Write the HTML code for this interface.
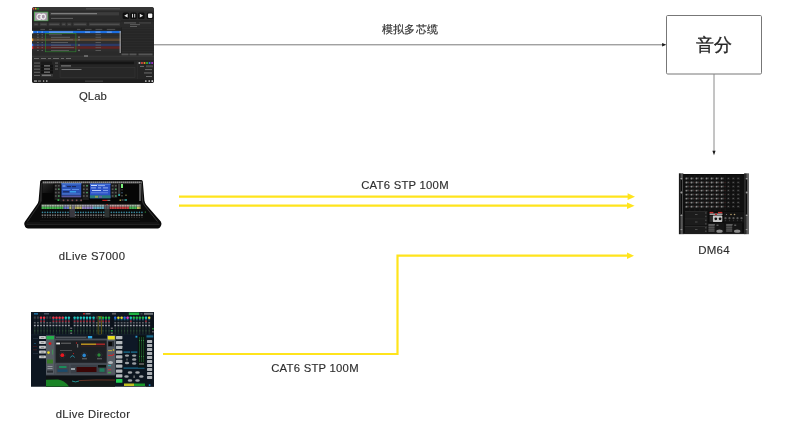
<!DOCTYPE html>
<html><head><meta charset="utf-8">
<style>
html,body{margin:0;padding:0;}
body{width:800px;height:430px;background:#ffffff;position:relative;overflow:hidden;font-family:"Liberation Sans", sans-serif;}
.t{position:absolute;white-space:nowrap;text-align:center;color:#2e2e2e;line-height:1;will-change:transform;}
.ab{position:absolute;}
svg{position:absolute;left:0;top:0;}
</style></head><body>
<div class="t" style="left:-57.400000000000006px;width:300px;top:91.4px;font-size:11.3px;letter-spacing:0.1px;color:#2e2e2e;-webkit-text-stroke:0.15px #2e2e2e;">QLab</div><div class="t" style="left:255px;width:300px;top:179.5px;font-size:11.3px;letter-spacing:0.25px;color:#2e2e2e;-webkit-text-stroke:0.15px #2e2e2e;">CAT6 STP 100M</div><div class="t" style="left:165px;width:300px;top:362.5px;font-size:11.3px;letter-spacing:0.25px;color:#2e2e2e;-webkit-text-stroke:0.15px #2e2e2e;">CAT6 STP 100M</div><div class="t" style="left:-57.7px;width:300px;top:250.5px;font-size:11.3px;letter-spacing:0.35px;color:#2e2e2e;-webkit-text-stroke:0.15px #2e2e2e;">dLive S7000</div><div class="t" style="left:-57.5px;width:300px;top:408.5px;font-size:11.3px;letter-spacing:0.35px;color:#2e2e2e;-webkit-text-stroke:0.15px #2e2e2e;">dLive Director</div><div class="t" style="left:564px;width:300px;top:245.4px;font-size:11.5px;letter-spacing:0.2px;color:#2e2e2e;-webkit-text-stroke:0.15px #2e2e2e;">DM64</div><div class="t" style="left:260px;width:300px;top:24px;font-size:10.8px;letter-spacing:0.2px;color:#333;-webkit-text-stroke:0.2px #333;">模拟多芯缆</div><div class="t" style="left:564px;width:300px;top:36px;font-size:18px;letter-spacing:0px;color:#262626;-webkit-text-stroke:0.3px #262626;">音分</div><svg width="800" height="430" viewBox="0 0 800 430">
<line x1="154" y1="44.8" x2="663" y2="44.8" stroke="#7a7a7a" stroke-width="1"/>
<polygon points="662.1,43.1 666.4,44.8 662.1,46.5" fill="#1a1a1a"/>
<rect x="666.5" y="15.5" width="95" height="58.5" rx="1.2" fill="none" stroke="#777" stroke-width="1"/>
<line x1="714" y1="74" x2="714" y2="151.5" stroke="#8a8a8a" stroke-width="1"/>
<polygon points="712.4,150.8 714,155.2 715.6,150.8" fill="#1a1a1a"/>
<line x1="179" y1="196.7" x2="629" y2="196.7" stroke="#ffe41c" stroke-width="2.2"/>
<polygon points="627.6,193.3 635,196.7 627.6,200.1" fill="#ffe41c"/>
<line x1="179" y1="205.7" x2="628" y2="205.7" stroke="#ffe41c" stroke-width="2.2"/>
<polygon points="627,202.4 634.6,205.7 627,209" fill="#ffe41c"/>
<polyline points="163,354 397.5,354 397.5,255.7 628,255.7" fill="none" stroke="#ffe41c" stroke-width="2.2"/>
<polygon points="627,252.5 634,255.7 627,258.9" fill="#ffe41c"/>
</svg>
<svg width="800" height="430" viewBox="0 0 800 430" style="will-change:transform"><defs><clipPath id="qc"><rect x="32" y="7" width="122" height="76" rx="2.5"/></clipPath></defs><g clip-path="url(#qc)"><rect x="32" y="7" width="122" height="76" fill="#2a2a2a" /><rect x="32" y="7" width="122" height="3.6" fill="#353535" /><circle cx="33.4" cy="8.7" r="0.85" fill="#e0443e"/><circle cx="35.699999999999996" cy="8.7" r="0.85" fill="#dea123"/><circle cx="38.0" cy="8.7" r="0.85" fill="#1aab29"/><rect x="86" y="8.4" width="34" height="0.9" fill="#5a5a5a" /><rect x="34" y="11.7" width="14.3" height="9.6" fill="#34a83a" /><rect x="34.7" y="12.4" width="12.9" height="8.2" fill="#a696a8" /><path d="M41.2,15.2 A2.35,2.6 0 1 0 41.3,18.2 L41.3,16.9 L39.7,16.9" fill="none" stroke="#f0f0f0" stroke-width="1.15"/><ellipse cx="43.3" cy="16.6" rx="2.1" ry="2.5" fill="none" stroke="#f0f0f0" stroke-width="1.15"/><rect x="50" y="12.2" width="69" height="3.2" fill="#3c3c3c" /><rect x="51" y="13.2" width="46" height="1.0" fill="#a0a0a0" opacity="0.8"/><rect x="51" y="17.9" width="22" height="0.8" fill="#6e6e6e" /><rect x="32" y="21.5" width="89" height="0.6" fill="#222" /><rect x="33.8" y="22.6" width="4.6" height="3.2" fill="#3b3b3b" /><rect x="34.599999999999994" y="23.9" width="2.9999999999999996" height="0.7" fill="#5e5e5e" /><rect x="39.8" y="22.6" width="7.4" height="3.2" fill="#3b3b3b" /><rect x="40.599999999999994" y="23.9" width="5.800000000000001" height="0.7" fill="#5e5e5e" /><rect x="48.6" y="22.6" width="11.2" height="3.2" fill="#3b3b3b" /><rect x="49.4" y="23.9" width="9.6" height="0.7" fill="#5e5e5e" /><rect x="61.6" y="22.6" width="4.2" height="3.2" fill="#3b3b3b" /><rect x="62.4" y="23.9" width="2.6" height="0.7" fill="#5e5e5e" /><rect x="67.2" y="22.6" width="4.2" height="3.2" fill="#3b3b3b" /><rect x="68.0" y="23.9" width="2.6" height="0.7" fill="#5e5e5e" /><rect x="73.3" y="22.6" width="13.4" height="3.2" fill="#3b3b3b" /><rect x="74.1" y="23.9" width="11.8" height="0.7" fill="#5e5e5e" /><rect x="89" y="22.6" width="31" height="3.2" fill="#3b3b3b" /><rect x="89.8" y="23.9" width="29.4" height="0.7" fill="#5e5e5e" /><rect x="122.6" y="12.4" width="6.6" height="6.6" rx="1.5" fill="#0e0e0e"/><rect x="130.2" y="12.4" width="6.6" height="6.6" rx="1.5" fill="#0e0e0e"/><rect x="138.0" y="12.4" width="6.6" height="6.6" rx="1.5" fill="#0e0e0e"/><rect x="146.8" y="12.4" width="6.6" height="6.6" rx="1.5" fill="#0e0e0e"/><polygon points="127.6,13.8 127.6,17.6 124.2,15.7" fill="#e8e8e8"/><rect x="132.0" y="13.9" width="1.0" height="3.6" fill="#d0d0d0" /><rect x="134.2" y="13.9" width="1.0" height="3.6" fill="#d0d0d0" /><polygon points="139.8,13.8 139.8,17.6 143.2,15.7" fill="#e0e0e0"/><rect x="148.0" y="13.6" width="4.3" height="4.3" rx="0.8" fill="#f2f2f2"/><rect x="121" y="20.5" width="33" height="1.0" fill="#202020" /><rect x="124" y="22.3" width="12" height="1.2" fill="#5a5a5a" /><rect x="139" y="22.3" width="12" height="1.2" fill="#444" /><rect x="130" y="24.3" width="10" height="0.8" fill="#6a6a6a" /><rect x="130" y="26.2" width="7" height="0.8" fill="#6a6a6a" /><rect x="32" y="27.8" width="89" height="2.8" fill="#222222" /><rect x="40.4" y="28.9" width="4.6" height="0.8" fill="#5e5e5e" /><rect x="48.9" y="28.9" width="3" height="0.8" fill="#5e5e5e" /><rect x="77" y="28.9" width="3.4" height="0.8" fill="#5e5e5e" /><rect x="85" y="28.9" width="6.6" height="0.8" fill="#5e5e5e" /><rect x="95.5" y="28.9" width="6.8" height="0.8" fill="#5e5e5e" /><rect x="106.8" y="28.9" width="8.4" height="0.8" fill="#5e5e5e" /><rect x="32" y="30.9" width="89" height="2.5" fill="#1c6ee0" /><rect x="32" y="33.4" width="89" height="2.5" fill="#2c2c2c" /><rect x="32" y="35.9" width="89" height="2.5" fill="#303030" /><rect x="32" y="38.5" width="89" height="2.6" fill="#5b4834" /><rect x="32" y="41.1" width="89" height="2.6" fill="#2e2e2e" /><rect x="32" y="43.7" width="89" height="2.6" fill="#2b3a66" /><rect x="32" y="46.3" width="89" height="2.6" fill="#5e2424" /><rect x="32" y="48.9" width="89" height="2.6" fill="#2d2d2d" /><rect x="32" y="30.9" width="1.2" height="2.5" fill="#ffffff" /><rect x="32" y="38.5" width="1.2" height="2.6" fill="#f0a030" /><rect x="32" y="43.7" width="1.2" height="2.6" fill="#3a7af0" /><rect x="32" y="46.3" width="1.2" height="2.6" fill="#e03a3a" /><rect x="37.2" y="31.6" width="0.8" height="1.0" fill="#e0e8ff" /><rect x="41.7" y="31.6" width="0.8" height="1.0" fill="#e0e8ff" /><rect x="49" y="31.7" width="24" height="0.8" fill="#e8f0ff" opacity="0.6"/><rect x="85" y="31.7" width="5" height="0.8" fill="#b8d0f8" opacity="0.8"/><rect x="95.5" y="31.7" width="5" height="0.8" fill="#b8d0f8" opacity="0.8"/><rect x="106.8" y="31.7" width="5" height="0.8" fill="#b8d0f8" opacity="0.8"/><rect x="37" y="34.4" width="1.8" height="0.8" fill="#6a6a6a" /><rect x="41.5" y="34.4" width="1.5" height="0.8" fill="#6a6a6a" /><rect x="48.9" y="34.5" width="13" height="0.65" fill="#6e6e6e" /><rect x="95.5" y="34.4" width="5.5" height="0.8" fill="#626262" /><rect x="37" y="36.800000000000004" width="1.8" height="0.8" fill="#6a6a6a" /><rect x="41.5" y="36.800000000000004" width="1.5" height="0.8" fill="#6a6a6a" /><rect x="51" y="36.900000000000006" width="19" height="0.65" fill="#727272" /><rect x="95.5" y="36.800000000000004" width="5.5" height="0.8" fill="#626262" /><rect x="37" y="39.4" width="1.8" height="0.8" fill="#6a6a6a" /><rect x="41.5" y="39.4" width="1.5" height="0.8" fill="#6a6a6a" /><rect x="51" y="39.5" width="22" height="0.65" fill="#727272" /><rect x="95.5" y="39.4" width="5.5" height="0.8" fill="#626262" /><rect x="37" y="42.1" width="1.8" height="0.8" fill="#6a6a6a" /><rect x="41.5" y="42.1" width="1.5" height="0.8" fill="#6a6a6a" /><rect x="51" y="42.2" width="17" height="0.65" fill="#727272" /><rect x="95.5" y="42.1" width="5.5" height="0.8" fill="#626262" /><rect x="37" y="44.7" width="1.8" height="0.8" fill="#6a6a6a" /><rect x="41.5" y="44.7" width="1.5" height="0.8" fill="#6a6a6a" /><rect x="51" y="44.800000000000004" width="20" height="0.65" fill="#727272" /><rect x="95.5" y="44.7" width="5.5" height="0.8" fill="#626262" /><rect x="37" y="47.300000000000004" width="1.8" height="0.8" fill="#6a6a6a" /><rect x="41.5" y="47.300000000000004" width="1.5" height="0.8" fill="#6a6a6a" /><rect x="51" y="47.400000000000006" width="23" height="0.65" fill="#727272" /><rect x="95.5" y="47.300000000000004" width="5.5" height="0.8" fill="#626262" /><rect x="37" y="50.0" width="1.8" height="0.8" fill="#6a6a6a" /><rect x="41.5" y="50.0" width="1.5" height="0.8" fill="#6a6a6a" /><rect x="51" y="50.1" width="18" height="0.65" fill="#727272" /><rect x="95.5" y="50.0" width="5.5" height="0.8" fill="#626262" /><rect x="78" y="36.5" width="2" height="1.4" fill="#6a6a6a" /><rect x="78" y="39.099999999999994" width="2" height="1.4" fill="#6a6a6a" /><rect x="78" y="44.4" width="2" height="1.4" fill="#6a6a6a" /><rect x="78" y="49.699999999999996" width="2" height="1.4" fill="#6a6a6a" /><rect x="45.6" y="33.4" width="30.3" height="18.4" fill="none" stroke="#2f8a2f" stroke-width="0.6"/><rect x="119.6" y="31" width="1.2" height="22" fill="#9a9a9a" /><rect x="121" y="27.5" width="33" height="26" fill="#262626" /><rect x="121" y="28.0" width="33" height="0.6" fill="#303030" /><rect x="121" y="30.6" width="33" height="0.6" fill="#303030" /><rect x="121" y="33.2" width="33" height="0.6" fill="#303030" /><rect x="121" y="35.8" width="33" height="0.6" fill="#303030" /><rect x="121" y="38.4" width="33" height="0.6" fill="#303030" /><rect x="121" y="41.0" width="33" height="0.6" fill="#303030" /><rect x="121" y="43.6" width="33" height="0.6" fill="#303030" /><rect x="121" y="46.2" width="33" height="0.6" fill="#303030" /><rect x="121" y="48.8" width="33" height="0.6" fill="#303030" /><rect x="121" y="51.400000000000006" width="33" height="0.6" fill="#303030" /><rect x="121" y="27.5" width="0.6" height="26" fill="#1a1a1a" /><rect x="121.5" y="53.5" width="7" height="1.8" fill="#555" /><rect x="129.5" y="53.5" width="7" height="1.8" fill="#555" /><rect x="138.5" y="53.5" width="14" height="1.8" fill="#555" /><rect x="32" y="55.8" width="122" height="0.8" fill="#3e3e3e" /><rect x="84" y="55.4" width="4" height="1.2" fill="#8a8a8a" /><rect x="32" y="57" width="122" height="3" fill="#2e2e2e" /><rect x="34" y="58" width="5" height="1.0" fill="#6a6a6a" /><rect x="41" y="58" width="5" height="1.0" fill="#6a6a6a" /><rect x="48" y="58" width="3" height="1.0" fill="#6a6a6a" /><rect x="53" y="58" width="6" height="1.0" fill="#6a6a6a" /><rect x="61" y="58" width="3" height="1.0" fill="#6a6a6a" /><rect x="66" y="58" width="5" height="1.0" fill="#6a6a6a" /><rect x="32" y="60" width="122" height="19.5" fill="#252525" /><rect x="34" y="62.6" width="6" height="0.9" fill="#707070" /><rect x="41" y="61.7" width="11" height="2.6" fill="#1a1a1a" /><rect x="34" y="65.6" width="6" height="0.9" fill="#707070" /><rect x="41" y="64.69999999999999" width="12" height="2.6" fill="#121212" /><rect x="44" y="65.39999999999999" width="6" height="1.0" fill="#9a9a9a" /><rect x="34" y="68.7" width="6" height="0.9" fill="#707070" /><rect x="41" y="67.8" width="12" height="2.6" fill="#121212" /><rect x="44" y="68.5" width="6" height="1.0" fill="#9a9a9a" /><rect x="34" y="71.8" width="6" height="0.9" fill="#707070" /><rect x="41" y="70.89999999999999" width="12" height="2.6" fill="#121212" /><rect x="44" y="71.6" width="6" height="1.0" fill="#9a9a9a" /><rect x="34" y="74.9" width="6" height="0.9" fill="#707070" /><rect x="41" y="74.0" width="12" height="2.6" fill="#3a3a3a" /><rect x="42" y="74.7" width="9" height="1.1" fill="#888" /><rect x="60" y="61.6" width="74" height="2.6" fill="#141414" /><rect x="55" y="62.6" width="3" height="0.9" fill="#707070" /><rect x="55" y="65.6" width="3" height="0.9" fill="#707070" /><rect x="55" y="68.6" width="3" height="0.9" fill="#707070" /><rect x="61" y="65.4" width="10" height="1.0" fill="#8a8a8a" /><rect x="60" y="67.5" width="75" height="10" fill="#272727" stroke="#3a3a3a" stroke-width="0.5"/><rect x="61.5" y="69.0" width="20" height="0.8" fill="#8a8a8a" /><circle cx="139.4" cy="63" r="1.05" fill="#bbbbbb"/><circle cx="141.95000000000002" cy="63" r="1.05" fill="#e04040"/><circle cx="144.5" cy="63" r="1.05" fill="#f09020"/><circle cx="147.05" cy="63" r="1.05" fill="#30c030"/><circle cx="149.6" cy="63" r="1.05" fill="#3a70e0"/><circle cx="152.15" cy="63" r="1.05" fill="#a030d0"/><rect x="140" y="65.9" width="4" height="0.9" fill="#777" /><rect x="146" y="65.3" width="7" height="2.0" fill="#4a4a4a" /><rect x="145" y="69.2" width="7" height="0.9" fill="#777" /><rect x="144" y="72.5" width="8" height="0.9" fill="#777" /><rect x="146" y="76" width="6" height="0.9" fill="#777" /><rect x="137" y="61" width="0.5" height="18" fill="#333" /><rect x="32" y="79.3" width="122" height="3.7" fill="#1e1e1e" /><rect x="34" y="80.5" width="3" height="1.1" fill="#c8c8c8" /><rect x="38" y="80.5" width="3" height="1.1" fill="#909090" /><rect x="43" y="80.3" width="1.2" height="1.5" fill="#aaa" /><rect x="46" y="80.3" width="1.5" height="1.5" fill="#aaa" /><rect x="85" y="80.7" width="18" height="0.8" fill="#555" /><rect x="145" y="80.3" width="1.6" height="1.6" fill="#aaa" /><rect x="148.5" y="80.3" width="1.5" height="1.5" fill="#ccc" /><rect x="151.5" y="80.3" width="1.6" height="1.6" fill="#eee" /></g></svg><svg width="800" height="430" viewBox="0 0 800 430"><defs><linearGradient id="scr" x1="0" y1="0" x2="0" y2="1"><stop offset="0" stop-color="#6aa4f4"/><stop offset="1" stop-color="#3a74d8"/></linearGradient><linearGradient id="front" x1="0" y1="0" x2="0" y2="1"><stop offset="0" stop-color="#0a0a0a"/><stop offset="0.5" stop-color="#202020"/><stop offset="1" stop-color="#060606"/></linearGradient></defs><path d="M42,180 L141.3,180 Q142.7,180 142.8,181.5 L144.4,200.5 Q144.8,203 146.4,205 L160.8,221.5 Q161.8,223 161.3,225 L160.3,227 Q159.6,228.4 158,228.4 L28,228.4 Q26,228.4 25.2,227 L24.3,224.6 Q23.9,223 25,221.6 L36.6,205 Q38.3,203 38.6,200.5 L40.2,181.5 Q40.3,180 42,180 Z" fill="#0a0a0a"/><path d="M141.4,183 L142.6,201.5 Q143,203.5 144.6,205.5 L157.5,221.5" fill="none" stroke="#4a4a4a" stroke-width="0.7"/><path d="M41.6,183 L40.4,201.5 Q40,203.5 38.4,205.5 L27.5,221.5" fill="none" stroke="#3e3e3e" stroke-width="0.7"/><path d="M26.5,224.3 L159.5,224.3" stroke="#3a3a3a" stroke-width="0.6"/><rect x="42.5" y="183" width="98.5" height="19.5" fill="#060606" /><linearGradient id="mbl" x1="0" y1="0" x2="1" y2="1"><stop offset="0" stop-color="#3a3a3a"/><stop offset="1" stop-color="#060606"/></linearGradient><rect x="42.5" y="183" width="11" height="10" fill="url(#mbl)" opacity="0.7"/><rect x="42.5" y="181.4" width="98.8" height="2.0" fill="#8a8a8a" opacity="0.75"/><rect x="43.0" y="181.6" width="0.8" height="1.5" fill="#c8c8c8" opacity="0.5"/><rect x="45.0" y="181.6" width="0.8" height="1.5" fill="#c8c8c8" opacity="0.5"/><rect x="47.0" y="181.6" width="0.8" height="1.5" fill="#c8c8c8" opacity="0.5"/><rect x="49.0" y="181.6" width="0.8" height="1.5" fill="#c8c8c8" opacity="0.5"/><rect x="51.0" y="181.6" width="0.8" height="1.5" fill="#c8c8c8" opacity="0.5"/><rect x="53.0" y="181.6" width="0.8" height="1.5" fill="#c8c8c8" opacity="0.5"/><rect x="55.0" y="181.6" width="0.8" height="1.5" fill="#c8c8c8" opacity="0.5"/><rect x="57.0" y="181.6" width="0.8" height="1.5" fill="#c8c8c8" opacity="0.5"/><rect x="59.0" y="181.6" width="0.8" height="1.5" fill="#c8c8c8" opacity="0.5"/><rect x="61.0" y="181.6" width="0.8" height="1.5" fill="#c8c8c8" opacity="0.5"/><rect x="63.0" y="181.6" width="0.8" height="1.5" fill="#c8c8c8" opacity="0.5"/><rect x="65.0" y="181.6" width="0.8" height="1.5" fill="#c8c8c8" opacity="0.5"/><rect x="67.0" y="181.6" width="0.8" height="1.5" fill="#c8c8c8" opacity="0.5"/><rect x="69.0" y="181.6" width="0.8" height="1.5" fill="#c8c8c8" opacity="0.5"/><rect x="71.0" y="181.6" width="0.8" height="1.5" fill="#c8c8c8" opacity="0.5"/><rect x="73.0" y="181.6" width="0.8" height="1.5" fill="#c8c8c8" opacity="0.5"/><rect x="75.0" y="181.6" width="0.8" height="1.5" fill="#c8c8c8" opacity="0.5"/><rect x="77.0" y="181.6" width="0.8" height="1.5" fill="#c8c8c8" opacity="0.5"/><rect x="79.0" y="181.6" width="0.8" height="1.5" fill="#c8c8c8" opacity="0.5"/><rect x="81.0" y="181.6" width="0.8" height="1.5" fill="#c8c8c8" opacity="0.5"/><rect x="83.0" y="181.6" width="0.8" height="1.5" fill="#c8c8c8" opacity="0.5"/><rect x="85.0" y="181.6" width="0.8" height="1.5" fill="#c8c8c8" opacity="0.5"/><rect x="87.0" y="181.6" width="0.8" height="1.5" fill="#c8c8c8" opacity="0.5"/><rect x="89.0" y="181.6" width="0.8" height="1.5" fill="#c8c8c8" opacity="0.5"/><rect x="91.0" y="181.6" width="0.8" height="1.5" fill="#c8c8c8" opacity="0.5"/><rect x="93.0" y="181.6" width="0.8" height="1.5" fill="#c8c8c8" opacity="0.5"/><rect x="95.0" y="181.6" width="0.8" height="1.5" fill="#c8c8c8" opacity="0.5"/><rect x="97.0" y="181.6" width="0.8" height="1.5" fill="#c8c8c8" opacity="0.5"/><rect x="99.0" y="181.6" width="0.8" height="1.5" fill="#c8c8c8" opacity="0.5"/><rect x="101.0" y="181.6" width="0.8" height="1.5" fill="#c8c8c8" opacity="0.5"/><rect x="103.0" y="181.6" width="0.8" height="1.5" fill="#c8c8c8" opacity="0.5"/><rect x="105.0" y="181.6" width="0.8" height="1.5" fill="#c8c8c8" opacity="0.5"/><rect x="107.0" y="181.6" width="0.8" height="1.5" fill="#c8c8c8" opacity="0.5"/><rect x="109.0" y="181.6" width="0.8" height="1.5" fill="#c8c8c8" opacity="0.5"/><rect x="111.0" y="181.6" width="0.8" height="1.5" fill="#c8c8c8" opacity="0.5"/><rect x="113.0" y="181.6" width="0.8" height="1.5" fill="#c8c8c8" opacity="0.5"/><rect x="115.0" y="181.6" width="0.8" height="1.5" fill="#c8c8c8" opacity="0.5"/><rect x="117.0" y="181.6" width="0.8" height="1.5" fill="#c8c8c8" opacity="0.5"/><rect x="119.0" y="181.6" width="0.8" height="1.5" fill="#c8c8c8" opacity="0.5"/><rect x="121.0" y="181.6" width="0.8" height="1.5" fill="#c8c8c8" opacity="0.5"/><rect x="123.0" y="181.6" width="0.8" height="1.5" fill="#c8c8c8" opacity="0.5"/><rect x="125.0" y="181.6" width="0.8" height="1.5" fill="#c8c8c8" opacity="0.5"/><rect x="127.0" y="181.6" width="0.8" height="1.5" fill="#c8c8c8" opacity="0.5"/><rect x="129.0" y="181.6" width="0.8" height="1.5" fill="#c8c8c8" opacity="0.5"/><rect x="131.0" y="181.6" width="0.8" height="1.5" fill="#c8c8c8" opacity="0.5"/><rect x="133.0" y="181.6" width="0.8" height="1.5" fill="#c8c8c8" opacity="0.5"/><rect x="135.0" y="181.6" width="0.8" height="1.5" fill="#c8c8c8" opacity="0.5"/><rect x="137.0" y="181.6" width="0.8" height="1.5" fill="#c8c8c8" opacity="0.5"/><rect x="139.0" y="181.6" width="0.8" height="1.5" fill="#c8c8c8" opacity="0.5"/><rect x="141.0" y="181.6" width="0.8" height="1.5" fill="#c8c8c8" opacity="0.5"/><rect x="139" y="184" width="2.0" height="17" fill="#555555" /><rect x="40.8" y="183.5" width="1.0" height="18" fill="#2a2a2a" /><rect x="61.4" y="183.3" width="19.9" height="12.3" fill="#2a54b8" /><rect x="89.9" y="183.6" width="20.6" height="14.7" fill="#2b52c6" /><rect x="61.4" y="183.3" width="19.9" height="1.0" fill="#5a8ae0" /><rect x="62.5" y="185.5" width="3" height="1" fill="#a0c0ff" /><rect x="67" y="186" width="4" height="1.2" fill="#1a2a60" /><rect x="72" y="186" width="4" height="1.2" fill="#1a2a60" /><rect x="62.5" y="189" width="8" height="0.8" fill="#6a9af0" /><rect x="72" y="189" width="7" height="0.8" fill="#6a9af0" /><rect x="63" y="191" width="6" height="1.5" fill="#1a3070" /><rect x="70" y="191" width="6" height="1.5" fill="#3aa0e8" /><rect x="62" y="193.5" width="18" height="0.8" fill="#5a80d0" /><rect x="61.4" y="195.6" width="19.9" height="1.8" fill="#5a58a0" /><rect x="89.9" y="183.6" width="20.6" height="1.3" fill="#4a78e0" /><rect x="91" y="185" width="6" height="1.0" fill="#d0e0ff" /><rect x="98" y="185.2" width="7" height="0.9" fill="#a8c0f0" /><rect x="91" y="187.5" width="5" height="0.8" fill="#b0c8f8" /><rect x="98" y="187.5" width="3" height="0.8" fill="#b0c8f8" /><rect x="103" y="187.5" width="5" height="0.8" fill="#b0c8f8" /><rect x="92" y="190" width="9" height="0.9" fill="#c8d8ff" /><rect x="103" y="190" width="5" height="0.9" fill="#8aa8f0" /><rect x="91" y="192.5" width="17" height="0.7" fill="#7a9ae8" /><rect x="89.9" y="195.3" width="20.6" height="2.9" fill="#2a7a7a" /><rect x="95" y="195.8" width="3" height="2" fill="#8a9a50" /><rect x="99" y="195.8" width="3" height="2" fill="#6a60a0" /><rect x="54.6" y="184" width="6" height="16" fill="#1e1e1e" /><rect x="82.4" y="184" width="6.4" height="16" fill="#1e1e1e" /><rect x="111.3" y="184" width="6" height="14" fill="#1e1e1e" /><rect x="54.9" y="185.0" width="1.8" height="1.6" fill="#5a5a5a" /><rect x="54.9" y="188.4" width="1.8" height="1.6" fill="#5a5a5a" /><rect x="54.9" y="191.8" width="1.8" height="1.6" fill="#5a5a5a" /><rect x="54.9" y="195.2" width="1.8" height="1.6" fill="#5a5a5a" /><rect x="57.9" y="185.0" width="1.8" height="1.6" fill="#5a5a5a" /><rect x="57.9" y="188.4" width="1.8" height="1.6" fill="#5a5a5a" /><rect x="57.9" y="191.8" width="1.8" height="1.6" fill="#5a5a5a" /><rect x="57.9" y="195.2" width="1.8" height="1.6" fill="#5a5a5a" /><rect x="82.89999999999999" y="185.0" width="1.8" height="1.6" fill="#5a5a5a" /><rect x="82.89999999999999" y="188.4" width="1.8" height="1.6" fill="#5a5a5a" /><rect x="82.89999999999999" y="191.8" width="1.8" height="1.6" fill="#5a5a5a" /><rect x="82.89999999999999" y="195.2" width="1.8" height="1.6" fill="#5a5a5a" /><rect x="86.1" y="185.0" width="1.8" height="1.6" fill="#5a5a5a" /><rect x="86.1" y="188.4" width="1.8" height="1.6" fill="#5a5a5a" /><rect x="86.1" y="191.8" width="1.8" height="1.6" fill="#5a5a5a" /><rect x="86.1" y="195.2" width="1.8" height="1.6" fill="#5a5a5a" /><rect x="111.69999999999999" y="185.0" width="1.8" height="1.6" fill="#5a5a5a" /><rect x="111.69999999999999" y="188.4" width="1.8" height="1.6" fill="#5a5a5a" /><rect x="111.69999999999999" y="191.8" width="1.8" height="1.6" fill="#5a5a5a" /><rect x="111.69999999999999" y="195.2" width="1.8" height="1.6" fill="#5a5a5a" /><rect x="114.89999999999999" y="185.0" width="1.8" height="1.6" fill="#5a5a5a" /><rect x="114.89999999999999" y="188.4" width="1.8" height="1.6" fill="#5a5a5a" /><rect x="114.89999999999999" y="191.8" width="1.8" height="1.6" fill="#5a5a5a" /><rect x="114.89999999999999" y="195.2" width="1.8" height="1.6" fill="#5a5a5a" /><rect x="58.199999999999996" y="188.70000000000002" width="1.2" height="1.0" fill="#3ad060" /><rect x="58.199999999999996" y="195.5" width="1.2" height="1.0" fill="#3ad060" /><rect x="86.4" y="185.3" width="1.2" height="1.0" fill="#3ad060" /><rect x="86.4" y="192.10000000000002" width="1.2" height="1.0" fill="#3ad060" /><rect x="115.2" y="188.70000000000002" width="1.2" height="1.0" fill="#3ad060" /><rect x="115.2" y="195.5" width="1.2" height="1.0" fill="#3ad060" /><rect x="60" y="198.4" width="22" height="3.2" fill="#1a1a1e" /><circle cx="63.5" cy="200.2" r="1.0" fill="#5a4a50"/><circle cx="63.5" cy="200.2" r="0.45" fill="#c05050"/><circle cx="67.9" cy="200.2" r="1.0" fill="#5a4a50"/><circle cx="67.9" cy="200.2" r="0.45" fill="#c05050"/><circle cx="72.3" cy="200.2" r="1.0" fill="#5a4a50"/><circle cx="72.3" cy="200.2" r="0.45" fill="#c05050"/><circle cx="76.7" cy="200.2" r="1.0" fill="#5a4a50"/><circle cx="76.7" cy="200.2" r="0.45" fill="#c05050"/><circle cx="81.1" cy="200.2" r="1.0" fill="#5a4a50"/><circle cx="81.1" cy="200.2" r="0.45" fill="#c05050"/><rect x="57.5" y="199.3" width="1.8" height="1.6" fill="#3ac050" /><rect x="102.3" y="199.8" width="5" height="1.2" fill="#c02020" /><rect x="107.3" y="199.8" width="3" height="1.2" fill="#d0d0d0" opacity="0.6"/><rect x="118" y="184" width="2.3" height="12" fill="#3a3a3a" /><rect x="118.3" y="194" width="1.7" height="2" fill="#2aa0a0" /><rect x="121" y="184" width="2" height="4" fill="#7af07a" /><rect x="121" y="189" width="2" height="1.5" fill="#2a2a2a" /><rect x="121" y="192" width="2" height="1.5" fill="#2a3a4a" /><rect x="121" y="195" width="2" height="1.5" fill="#3a3a3a" /><rect x="119.5" y="199.5" width="1.5" height="1.5" fill="#a09a40" /><rect x="121.5" y="199" width="2" height="2" fill="#3a3a3a" /><rect x="124.5" y="199" width="2.5" height="2" fill="#2a7a7a" /><rect x="125" y="194.5" width="2" height="1.5" fill="#4a4a2a" /><rect x="41.4" y="206.6" width="22.0" height="2.4" fill="#4fd65a" opacity="0.85"/><rect x="41.4" y="204.6" width="22.0" height="2.0" fill="#e6ffe6" opacity="0.7"/><rect x="63.4" y="206.6" width="5.600000000000001" height="2.4" fill="#7b8fe8" opacity="0.85"/><rect x="63.4" y="204.6" width="5.600000000000001" height="2.0" fill="#d8def8" opacity="0.7"/><rect x="69" y="206.6" width="2.700000000000003" height="2.4" fill="#d6d870" opacity="0.85"/><rect x="69" y="204.6" width="2.700000000000003" height="2.0" fill="#f0f0d0" opacity="0.7"/><rect x="71.7" y="206.6" width="3.3999999999999915" height="2.4" fill="#8a88a0" opacity="0.85"/><rect x="71.7" y="204.6" width="3.3999999999999915" height="2.0" fill="#c8c4d8" opacity="0.7"/><rect x="75.1" y="206.6" width="6.900000000000006" height="2.4" fill="#d8d070" opacity="0.85"/><rect x="75.1" y="204.6" width="6.900000000000006" height="2.0" fill="#f4f0e0" opacity="0.7"/><rect x="82" y="206.6" width="11" height="2.4" fill="#a898e0" opacity="0.85"/><rect x="82" y="204.6" width="11" height="2.0" fill="#e8e4f8" opacity="0.7"/><rect x="93" y="206.6" width="11" height="2.4" fill="#70c8e0" opacity="0.85"/><rect x="93" y="204.6" width="11" height="2.0" fill="#e0f4f8" opacity="0.7"/><rect x="104" y="206.6" width="5.5" height="2.4" fill="#6a6a70" opacity="0.85"/><rect x="104" y="204.6" width="5.5" height="2.0" fill="#a0a0a8" opacity="0.7"/><rect x="109.5" y="206.6" width="19.5" height="2.4" fill="#e04848" opacity="0.85"/><rect x="109.5" y="204.6" width="19.5" height="2.0" fill="#ffe0e0" opacity="0.7"/><rect x="129" y="206.6" width="8" height="2.4" fill="#50d060" opacity="0.85"/><rect x="129" y="204.6" width="8" height="2.0" fill="#e0ffe0" opacity="0.7"/><rect x="137" y="206.6" width="3.5" height="2.4" fill="#e8e070" opacity="0.85"/><rect x="137" y="204.6" width="3.5" height="2.0" fill="#fffff0" opacity="0.7"/><rect x="41.4" y="204.6" width="0.5" height="4.4" fill="#101010" opacity="0.55"/><rect x="43.9" y="204.6" width="0.5" height="4.4" fill="#101010" opacity="0.55"/><rect x="46.4" y="204.6" width="0.5" height="4.4" fill="#101010" opacity="0.55"/><rect x="48.9" y="204.6" width="0.5" height="4.4" fill="#101010" opacity="0.55"/><rect x="51.4" y="204.6" width="0.5" height="4.4" fill="#101010" opacity="0.55"/><rect x="53.9" y="204.6" width="0.5" height="4.4" fill="#101010" opacity="0.55"/><rect x="56.4" y="204.6" width="0.5" height="4.4" fill="#101010" opacity="0.55"/><rect x="58.9" y="204.6" width="0.5" height="4.4" fill="#101010" opacity="0.55"/><rect x="61.4" y="204.6" width="0.5" height="4.4" fill="#101010" opacity="0.55"/><rect x="63.9" y="204.6" width="0.5" height="4.4" fill="#101010" opacity="0.55"/><rect x="66.4" y="204.6" width="0.5" height="4.4" fill="#101010" opacity="0.55"/><rect x="68.9" y="204.6" width="0.5" height="4.4" fill="#101010" opacity="0.55"/><rect x="71.4" y="204.6" width="0.5" height="4.4" fill="#101010" opacity="0.55"/><rect x="73.9" y="204.6" width="0.5" height="4.4" fill="#101010" opacity="0.55"/><rect x="76.4" y="204.6" width="0.5" height="4.4" fill="#101010" opacity="0.55"/><rect x="78.9" y="204.6" width="0.5" height="4.4" fill="#101010" opacity="0.55"/><rect x="81.4" y="204.6" width="0.5" height="4.4" fill="#101010" opacity="0.55"/><rect x="83.9" y="204.6" width="0.5" height="4.4" fill="#101010" opacity="0.55"/><rect x="86.4" y="204.6" width="0.5" height="4.4" fill="#101010" opacity="0.55"/><rect x="88.9" y="204.6" width="0.5" height="4.4" fill="#101010" opacity="0.55"/><rect x="91.4" y="204.6" width="0.5" height="4.4" fill="#101010" opacity="0.55"/><rect x="93.9" y="204.6" width="0.5" height="4.4" fill="#101010" opacity="0.55"/><rect x="96.4" y="204.6" width="0.5" height="4.4" fill="#101010" opacity="0.55"/><rect x="98.9" y="204.6" width="0.5" height="4.4" fill="#101010" opacity="0.55"/><rect x="101.4" y="204.6" width="0.5" height="4.4" fill="#101010" opacity="0.55"/><rect x="103.9" y="204.6" width="0.5" height="4.4" fill="#101010" opacity="0.55"/><rect x="106.4" y="204.6" width="0.5" height="4.4" fill="#101010" opacity="0.55"/><rect x="108.9" y="204.6" width="0.5" height="4.4" fill="#101010" opacity="0.55"/><rect x="111.4" y="204.6" width="0.5" height="4.4" fill="#101010" opacity="0.55"/><rect x="113.9" y="204.6" width="0.5" height="4.4" fill="#101010" opacity="0.55"/><rect x="116.4" y="204.6" width="0.5" height="4.4" fill="#101010" opacity="0.55"/><rect x="118.9" y="204.6" width="0.5" height="4.4" fill="#101010" opacity="0.55"/><rect x="121.4" y="204.6" width="0.5" height="4.4" fill="#101010" opacity="0.55"/><rect x="123.9" y="204.6" width="0.5" height="4.4" fill="#101010" opacity="0.55"/><rect x="126.4" y="204.6" width="0.5" height="4.4" fill="#101010" opacity="0.55"/><rect x="128.9" y="204.6" width="0.5" height="4.4" fill="#101010" opacity="0.55"/><rect x="131.4" y="204.6" width="0.5" height="4.4" fill="#101010" opacity="0.55"/><rect x="133.9" y="204.6" width="0.5" height="4.4" fill="#101010" opacity="0.55"/><rect x="136.4" y="204.6" width="0.5" height="4.4" fill="#101010" opacity="0.55"/><rect x="138.9" y="204.6" width="0.5" height="4.4" fill="#101010" opacity="0.55"/><rect x="69.5" y="209" width="5.5" height="8.5" fill="#a8a4c0" opacity="0.3"/><rect x="104.5" y="209" width="5" height="8.5" fill="#8a9a9a" opacity="0.28"/><rect x="106.5" y="204" width="1.2" height="1.2" fill="#d03030" /><circle cx="42.5" cy="212.4" r="0.8" fill="#3a8aa0"/><circle cx="45.05" cy="212.4" r="0.8" fill="#3a8aa0"/><circle cx="47.6" cy="212.4" r="0.8" fill="#3a8aa0"/><circle cx="50.15" cy="212.4" r="0.8" fill="#3a8aa0"/><circle cx="52.7" cy="212.4" r="0.8" fill="#3a8aa0"/><circle cx="55.25" cy="212.4" r="0.8" fill="#3a8aa0"/><circle cx="57.8" cy="212.4" r="0.8" fill="#3a8aa0"/><circle cx="60.349999999999994" cy="212.4" r="0.8" fill="#3a8aa0"/><circle cx="62.9" cy="212.4" r="0.8" fill="#3a8aa0"/><circle cx="65.45" cy="212.4" r="0.8" fill="#3a8aa0"/><circle cx="68.0" cy="212.4" r="0.8" fill="#3a8aa0"/><circle cx="75.65" cy="212.4" r="0.8" fill="#3a8aa0"/><circle cx="78.19999999999999" cy="212.4" r="0.8" fill="#3a8aa0"/><circle cx="80.75" cy="212.4" r="0.8" fill="#3a8aa0"/><circle cx="83.3" cy="212.4" r="0.8" fill="#3a8aa0"/><circle cx="85.85" cy="212.4" r="0.8" fill="#3a8aa0"/><circle cx="88.4" cy="212.4" r="0.8" fill="#3a8aa0"/><circle cx="90.94999999999999" cy="212.4" r="0.8" fill="#3a8aa0"/><circle cx="93.5" cy="212.4" r="0.8" fill="#3a8aa0"/><circle cx="96.05" cy="212.4" r="0.8" fill="#3a8aa0"/><circle cx="98.6" cy="212.4" r="0.8" fill="#3a8aa0"/><circle cx="101.15" cy="212.4" r="0.8" fill="#3a8aa0"/><circle cx="103.69999999999999" cy="212.4" r="0.8" fill="#3a8aa0"/><circle cx="111.35" cy="212.4" r="0.8" fill="#3a8aa0"/><circle cx="113.89999999999999" cy="212.4" r="0.8" fill="#3a8aa0"/><circle cx="116.44999999999999" cy="212.4" r="0.8" fill="#3a8aa0"/><circle cx="119.0" cy="212.4" r="0.8" fill="#3a8aa0"/><circle cx="121.55" cy="212.4" r="0.8" fill="#3a8aa0"/><circle cx="124.1" cy="212.4" r="0.8" fill="#3a8aa0"/><circle cx="126.64999999999999" cy="212.4" r="0.8" fill="#3a8aa0"/><circle cx="129.2" cy="212.4" r="0.8" fill="#3a8aa0"/><circle cx="131.75" cy="212.4" r="0.8" fill="#3a8aa0"/><circle cx="134.3" cy="212.4" r="0.8" fill="#3a8aa0"/><circle cx="136.85" cy="212.4" r="0.8" fill="#3a8aa0"/><circle cx="139.39999999999998" cy="212.4" r="0.8" fill="#3a8aa0"/><circle cx="141.95" cy="212.4" r="0.8" fill="#3a8aa0"/><rect x="41.7" y="214.5" width="1.6" height="1.3" fill="#c8c8c8" opacity="0.7"/><rect x="41.9" y="216.8" width="1.2" height="0.8" fill="#7a7a7a" opacity="0.6"/><rect x="44.25" y="214.5" width="1.6" height="1.3" fill="#c8c8c8" opacity="0.7"/><rect x="44.449999999999996" y="216.8" width="1.2" height="0.8" fill="#7a7a7a" opacity="0.6"/><rect x="46.800000000000004" y="214.5" width="1.6" height="1.3" fill="#c8c8c8" opacity="0.7"/><rect x="47.0" y="216.8" width="1.2" height="0.8" fill="#7a7a7a" opacity="0.6"/><rect x="49.35" y="214.5" width="1.6" height="1.3" fill="#c8c8c8" opacity="0.7"/><rect x="49.55" y="216.8" width="1.2" height="0.8" fill="#7a7a7a" opacity="0.6"/><rect x="51.900000000000006" y="214.5" width="1.6" height="1.3" fill="#c8c8c8" opacity="0.7"/><rect x="52.1" y="216.8" width="1.2" height="0.8" fill="#7a7a7a" opacity="0.6"/><rect x="54.45" y="214.5" width="1.6" height="1.3" fill="#c8c8c8" opacity="0.7"/><rect x="54.65" y="216.8" width="1.2" height="0.8" fill="#7a7a7a" opacity="0.6"/><rect x="57.0" y="214.5" width="1.6" height="1.3" fill="#c8c8c8" opacity="0.7"/><rect x="57.199999999999996" y="216.8" width="1.2" height="0.8" fill="#7a7a7a" opacity="0.6"/><rect x="59.55" y="214.5" width="1.6" height="1.3" fill="#c8c8c8" opacity="0.7"/><rect x="59.74999999999999" y="216.8" width="1.2" height="0.8" fill="#7a7a7a" opacity="0.6"/><rect x="62.1" y="214.5" width="1.6" height="1.3" fill="#c8c8c8" opacity="0.7"/><rect x="62.3" y="216.8" width="1.2" height="0.8" fill="#7a7a7a" opacity="0.6"/><rect x="64.65" y="214.5" width="1.6" height="1.3" fill="#c8c8c8" opacity="0.7"/><rect x="64.85000000000001" y="216.8" width="1.2" height="0.8" fill="#7a7a7a" opacity="0.6"/><rect x="67.2" y="214.5" width="1.6" height="1.3" fill="#c8c8c8" opacity="0.7"/><rect x="67.4" y="216.8" width="1.2" height="0.8" fill="#7a7a7a" opacity="0.6"/><rect x="74.85000000000001" y="214.5" width="1.6" height="1.3" fill="#c8c8c8" opacity="0.7"/><rect x="75.05000000000001" y="216.8" width="1.2" height="0.8" fill="#7a7a7a" opacity="0.6"/><rect x="77.39999999999999" y="214.5" width="1.6" height="1.3" fill="#c8c8c8" opacity="0.7"/><rect x="77.6" y="216.8" width="1.2" height="0.8" fill="#7a7a7a" opacity="0.6"/><rect x="79.95" y="214.5" width="1.6" height="1.3" fill="#c8c8c8" opacity="0.7"/><rect x="80.15" y="216.8" width="1.2" height="0.8" fill="#7a7a7a" opacity="0.6"/><rect x="82.5" y="214.5" width="1.6" height="1.3" fill="#c8c8c8" opacity="0.7"/><rect x="82.7" y="216.8" width="1.2" height="0.8" fill="#7a7a7a" opacity="0.6"/><rect x="85.05" y="214.5" width="1.6" height="1.3" fill="#c8c8c8" opacity="0.7"/><rect x="85.25" y="216.8" width="1.2" height="0.8" fill="#7a7a7a" opacity="0.6"/><rect x="87.60000000000001" y="214.5" width="1.6" height="1.3" fill="#c8c8c8" opacity="0.7"/><rect x="87.80000000000001" y="216.8" width="1.2" height="0.8" fill="#7a7a7a" opacity="0.6"/><rect x="90.14999999999999" y="214.5" width="1.6" height="1.3" fill="#c8c8c8" opacity="0.7"/><rect x="90.35" y="216.8" width="1.2" height="0.8" fill="#7a7a7a" opacity="0.6"/><rect x="92.7" y="214.5" width="1.6" height="1.3" fill="#c8c8c8" opacity="0.7"/><rect x="92.9" y="216.8" width="1.2" height="0.8" fill="#7a7a7a" opacity="0.6"/><rect x="95.25" y="214.5" width="1.6" height="1.3" fill="#c8c8c8" opacity="0.7"/><rect x="95.45" y="216.8" width="1.2" height="0.8" fill="#7a7a7a" opacity="0.6"/><rect x="97.8" y="214.5" width="1.6" height="1.3" fill="#c8c8c8" opacity="0.7"/><rect x="98.0" y="216.8" width="1.2" height="0.8" fill="#7a7a7a" opacity="0.6"/><rect x="100.35000000000001" y="214.5" width="1.6" height="1.3" fill="#c8c8c8" opacity="0.7"/><rect x="100.55000000000001" y="216.8" width="1.2" height="0.8" fill="#7a7a7a" opacity="0.6"/><rect x="102.89999999999999" y="214.5" width="1.6" height="1.3" fill="#c8c8c8" opacity="0.7"/><rect x="103.1" y="216.8" width="1.2" height="0.8" fill="#7a7a7a" opacity="0.6"/><rect x="110.55" y="214.5" width="1.6" height="1.3" fill="#c8c8c8" opacity="0.7"/><rect x="110.75" y="216.8" width="1.2" height="0.8" fill="#7a7a7a" opacity="0.6"/><rect x="113.1" y="214.5" width="1.6" height="1.3" fill="#c8c8c8" opacity="0.7"/><rect x="113.3" y="216.8" width="1.2" height="0.8" fill="#7a7a7a" opacity="0.6"/><rect x="115.64999999999999" y="214.5" width="1.6" height="1.3" fill="#c8c8c8" opacity="0.7"/><rect x="115.85" y="216.8" width="1.2" height="0.8" fill="#7a7a7a" opacity="0.6"/><rect x="118.2" y="214.5" width="1.6" height="1.3" fill="#c8c8c8" opacity="0.7"/><rect x="118.4" y="216.8" width="1.2" height="0.8" fill="#7a7a7a" opacity="0.6"/><rect x="120.75" y="214.5" width="1.6" height="1.3" fill="#c8c8c8" opacity="0.7"/><rect x="120.95" y="216.8" width="1.2" height="0.8" fill="#7a7a7a" opacity="0.6"/><rect x="123.3" y="214.5" width="1.6" height="1.3" fill="#c8c8c8" opacity="0.7"/><rect x="123.5" y="216.8" width="1.2" height="0.8" fill="#7a7a7a" opacity="0.6"/><rect x="125.85" y="214.5" width="1.6" height="1.3" fill="#c8c8c8" opacity="0.7"/><rect x="126.05" y="216.8" width="1.2" height="0.8" fill="#7a7a7a" opacity="0.6"/><rect x="128.39999999999998" y="214.5" width="1.6" height="1.3" fill="#c8c8c8" opacity="0.7"/><rect x="128.6" y="216.8" width="1.2" height="0.8" fill="#7a7a7a" opacity="0.6"/><rect x="130.95" y="214.5" width="1.6" height="1.3" fill="#c8c8c8" opacity="0.7"/><rect x="131.15" y="216.8" width="1.2" height="0.8" fill="#7a7a7a" opacity="0.6"/><rect x="133.5" y="214.5" width="1.6" height="1.3" fill="#c8c8c8" opacity="0.7"/><rect x="133.70000000000002" y="216.8" width="1.2" height="0.8" fill="#7a7a7a" opacity="0.6"/><rect x="136.04999999999998" y="214.5" width="1.6" height="1.3" fill="#c8c8c8" opacity="0.7"/><rect x="136.25" y="216.8" width="1.2" height="0.8" fill="#7a7a7a" opacity="0.6"/><rect x="138.59999999999997" y="214.5" width="1.6" height="1.3" fill="#c8c8c8" opacity="0.7"/><rect x="138.79999999999998" y="216.8" width="1.2" height="0.8" fill="#7a7a7a" opacity="0.6"/><rect x="141.14999999999998" y="214.5" width="1.6" height="1.3" fill="#c8c8c8" opacity="0.7"/><rect x="141.35" y="216.8" width="1.2" height="0.8" fill="#7a7a7a" opacity="0.6"/><path d="M27,222.2 L158.5,222.2 L159.5,223.8 L26,223.8 Z" fill="#161616"/><rect x="40" y="220" width="100" height="0.6" fill="#1a1a1a" /><circle cx="145.3" cy="212" r="0.6" fill="#3ac050"/></svg><svg width="800" height="430" viewBox="0 0 800 430"><rect x="31" y="312" width="123" height="74.5" fill="#0b121b" /><rect x="31" y="312" width="123" height="3.6" fill="#111a24" /><rect x="34" y="313" width="4" height="1.6" fill="#1e6a9a" /><rect x="44" y="313.2" width="5" height="1.2" fill="#556070" /><rect x="83" y="313" width="2" height="1.5" fill="#c02020" /><rect x="85.5" y="313.2" width="5" height="1.2" fill="#8a8a90" /><rect x="112" y="312.8" width="4" height="1.8" fill="#5a5a60" /><rect x="128.8" y="312.5" width="10.4" height="2.5" fill="#1eb040" /><rect x="140.5" y="313" width="2" height="1.5" fill="#404850" /><rect x="144" y="312.8" width="9" height="2" fill="#70757a" /><rect x="33.699999999999996" y="316" width="2.2" height="18.5" fill="#141c26" /><rect x="33.8" y="316.5" width="2" height="2.2" fill="#3a3e44" /><rect x="33.9" y="322.2" width="1.8" height="0.7" fill="#7a7e84" /><rect x="33.9" y="323.6" width="1.8" height="0.7" fill="#6a6e74" /><rect x="33.9" y="325.2" width="1.8" height="1.0" fill="#bfc2c6" /><rect x="34.5" y="327" width="0.6" height="7.5" fill="#1e3a28" /><rect x="34.3" y="330" width="1" height="1.6" fill="#2c4a36" /><rect x="36.8" y="316" width="2.2" height="18.5" fill="#141c26" /><rect x="36.9" y="316.5" width="2" height="2.2" fill="#3a3e44" /><rect x="37.0" y="322.2" width="1.8" height="0.7" fill="#7a7e84" /><rect x="37.0" y="323.6" width="1.8" height="0.7" fill="#6a6e74" /><rect x="37.0" y="325.2" width="1.8" height="1.0" fill="#bfc2c6" /><rect x="37.6" y="327" width="0.6" height="7.5" fill="#1e3a28" /><rect x="37.4" y="330" width="1" height="1.6" fill="#2c4a36" /><rect x="39.9" y="316" width="2.2" height="18.5" fill="#141c26" /><circle cx="41.0" cy="317.8" r="1.25" fill="#e8384a"/><rect x="40.1" y="319.3" width="1.8" height="0.9" fill="#1a7a9a" /><rect x="40.1" y="320.5" width="1.8" height="1.4" fill="#a82a3a" /><rect x="40.1" y="322.2" width="1.8" height="0.7" fill="#7a7e84" /><rect x="40.1" y="323.6" width="1.8" height="0.7" fill="#6a6e74" /><rect x="40.1" y="325.2" width="1.8" height="1.0" fill="#bfc2c6" /><rect x="40.7" y="327" width="0.6" height="7.5" fill="#1e3a28" /><rect x="40.5" y="330" width="1" height="1.6" fill="#2c4a36" /><rect x="43.0" y="316" width="2.2" height="18.5" fill="#141c26" /><circle cx="44.1" cy="317.8" r="1.25" fill="#e8384a"/><rect x="43.2" y="319.3" width="1.8" height="0.9" fill="#1a7a9a" /><rect x="43.2" y="320.5" width="1.8" height="1.4" fill="#a82a3a" /><rect x="43.2" y="322.2" width="1.8" height="0.7" fill="#7a7e84" /><rect x="43.2" y="323.6" width="1.8" height="0.7" fill="#6a6e74" /><rect x="43.2" y="325.2" width="1.8" height="1.0" fill="#bfc2c6" /><rect x="43.800000000000004" y="327" width="0.6" height="7.5" fill="#1e3a28" /><rect x="43.6" y="330" width="1" height="1.6" fill="#2c4a36" /><rect x="46.1" y="316" width="2.2" height="18.5" fill="#141c26" /><rect x="46.2" y="316.5" width="2" height="2.2" fill="#3a3e44" /><rect x="46.300000000000004" y="322.2" width="1.8" height="0.7" fill="#7a7e84" /><rect x="46.300000000000004" y="323.6" width="1.8" height="0.7" fill="#6a6e74" /><rect x="46.300000000000004" y="325.2" width="1.8" height="1.0" fill="#bfc2c6" /><rect x="46.900000000000006" y="327" width="0.6" height="7.5" fill="#1e3a28" /><rect x="46.7" y="330" width="1" height="1.6" fill="#2c4a36" /><rect x="49.199999999999996" y="316" width="2.2" height="18.5" fill="#141c26" /><rect x="49.3" y="316.5" width="2" height="2.2" fill="#3a3e44" /><rect x="49.4" y="322.2" width="1.8" height="0.7" fill="#7a7e84" /><rect x="49.4" y="323.6" width="1.8" height="0.7" fill="#6a6e74" /><rect x="49.4" y="325.2" width="1.8" height="1.0" fill="#bfc2c6" /><rect x="50.0" y="327" width="0.6" height="7.5" fill="#1e3a28" /><rect x="49.8" y="330" width="1" height="1.6" fill="#2c4a36" /><rect x="52.3" y="316" width="2.2" height="18.5" fill="#141c26" /><circle cx="53.4" cy="317.8" r="1.25" fill="#e8384a"/><rect x="52.5" y="319.3" width="1.8" height="0.9" fill="#1a7a9a" /><rect x="52.5" y="320.5" width="1.8" height="1.4" fill="#a82a3a" /><rect x="52.5" y="322.2" width="1.8" height="0.7" fill="#7a7e84" /><rect x="52.5" y="323.6" width="1.8" height="0.7" fill="#6a6e74" /><rect x="52.5" y="325.2" width="1.8" height="1.0" fill="#bfc2c6" /><rect x="53.1" y="327" width="0.6" height="7.5" fill="#1e3a28" /><rect x="52.9" y="330" width="1" height="1.6" fill="#2c4a36" /><rect x="55.4" y="316" width="2.2" height="18.5" fill="#141c26" /><circle cx="56.5" cy="317.8" r="1.25" fill="#e8384a"/><rect x="55.6" y="319.3" width="1.8" height="0.9" fill="#1a7a9a" /><rect x="55.6" y="320.5" width="1.8" height="1.4" fill="#a82a3a" /><rect x="55.6" y="322.2" width="1.8" height="0.7" fill="#7a7e84" /><rect x="55.6" y="323.6" width="1.8" height="0.7" fill="#6a6e74" /><rect x="55.6" y="325.2" width="1.8" height="1.0" fill="#bfc2c6" /><rect x="56.2" y="327" width="0.6" height="7.5" fill="#1e3a28" /><rect x="56.0" y="330" width="1" height="1.6" fill="#2c4a36" /><rect x="58.5" y="316" width="2.2" height="18.5" fill="#141c26" /><circle cx="59.6" cy="317.8" r="1.25" fill="#e8384a"/><rect x="58.7" y="319.3" width="1.8" height="0.9" fill="#1a7a9a" /><rect x="58.7" y="320.5" width="1.8" height="1.4" fill="#a82a3a" /><rect x="58.7" y="322.2" width="1.8" height="0.7" fill="#7a7e84" /><rect x="58.7" y="323.6" width="1.8" height="0.7" fill="#6a6e74" /><rect x="58.7" y="325.2" width="1.8" height="1.0" fill="#bfc2c6" /><rect x="59.300000000000004" y="327" width="0.6" height="7.5" fill="#1e3a28" /><rect x="59.1" y="330" width="1" height="1.6" fill="#2c4a36" /><rect x="61.6" y="316" width="2.2" height="18.5" fill="#141c26" /><circle cx="62.7" cy="317.8" r="1.25" fill="#e8384a"/><rect x="61.800000000000004" y="319.3" width="1.8" height="0.9" fill="#1a7a9a" /><rect x="61.800000000000004" y="320.5" width="1.8" height="1.4" fill="#a82a3a" /><rect x="61.800000000000004" y="322.2" width="1.8" height="0.7" fill="#7a7e84" /><rect x="61.800000000000004" y="323.6" width="1.8" height="0.7" fill="#6a6e74" /><rect x="61.800000000000004" y="325.2" width="1.8" height="1.0" fill="#bfc2c6" /><rect x="62.400000000000006" y="327" width="0.6" height="7.5" fill="#1e3a28" /><rect x="62.2" y="330" width="1" height="1.6" fill="#2c4a36" /><rect x="64.7" y="316" width="2.2" height="18.5" fill="#141c26" /><circle cx="65.8" cy="317.8" r="1.25" fill="#20c8c0"/><rect x="64.89999999999999" y="319.3" width="1.8" height="0.9" fill="#1a7a9a" /><rect x="64.89999999999999" y="320.5" width="1.8" height="1.4" fill="#a82a3a" /><rect x="64.89999999999999" y="322.2" width="1.8" height="0.7" fill="#7a7e84" /><rect x="64.89999999999999" y="323.6" width="1.8" height="0.7" fill="#6a6e74" /><rect x="64.89999999999999" y="325.2" width="1.8" height="1.0" fill="#bfc2c6" /><rect x="65.5" y="327" width="0.6" height="7.5" fill="#1e3a28" /><rect x="65.3" y="330" width="1" height="1.6" fill="#2c4a36" /><rect x="67.80000000000001" y="316" width="2.2" height="18.5" fill="#141c26" /><circle cx="68.9" cy="317.8" r="1.25" fill="#20c8c0"/><rect x="68.0" y="319.3" width="1.8" height="0.9" fill="#1a7a9a" /><rect x="68.0" y="320.5" width="1.8" height="1.4" fill="#a82a3a" /><rect x="68.0" y="322.2" width="1.8" height="0.7" fill="#7a7e84" /><rect x="68.0" y="323.6" width="1.8" height="0.7" fill="#6a6e74" /><rect x="68.0" y="325.2" width="1.8" height="1.0" fill="#bfc2c6" /><rect x="68.60000000000001" y="327" width="0.6" height="7.5" fill="#1e3a28" /><rect x="68.4" y="330" width="1" height="1.6" fill="#2c4a36" /><rect x="73.5" y="316" width="2.2" height="18.5" fill="#141c26" /><circle cx="74.6" cy="317.8" r="1.25" fill="#20c8c0"/><rect x="73.69999999999999" y="319.3" width="1.8" height="0.9" fill="#1a7a9a" /><rect x="73.69999999999999" y="320.5" width="1.8" height="1.4" fill="#a82a3a" /><rect x="73.69999999999999" y="322.2" width="1.8" height="0.7" fill="#7a7e84" /><rect x="73.69999999999999" y="323.6" width="1.8" height="0.7" fill="#6a6e74" /><rect x="73.69999999999999" y="325.2" width="1.8" height="1.0" fill="#bfc2c6" /><rect x="74.3" y="327" width="0.6" height="7.5" fill="#1e3a28" /><rect x="74.1" y="330" width="1" height="1.6" fill="#2c4a36" /><rect x="76.60000000000001" y="316" width="2.2" height="18.5" fill="#141c26" /><circle cx="77.7" cy="317.8" r="1.25" fill="#20c8c0"/><rect x="76.8" y="319.3" width="1.8" height="0.9" fill="#1a7a9a" /><rect x="76.8" y="320.5" width="1.8" height="1.4" fill="#a82a3a" /><rect x="76.8" y="322.2" width="1.8" height="0.7" fill="#7a7e84" /><rect x="76.8" y="323.6" width="1.8" height="0.7" fill="#6a6e74" /><rect x="76.8" y="325.2" width="1.8" height="1.0" fill="#bfc2c6" /><rect x="77.4" y="327" width="0.6" height="7.5" fill="#1e3a28" /><rect x="77.2" y="330" width="1" height="1.6" fill="#2c4a36" /><rect x="79.7" y="316" width="2.2" height="18.5" fill="#141c26" /><circle cx="80.8" cy="317.8" r="1.25" fill="#20c8c0"/><rect x="79.89999999999999" y="319.3" width="1.8" height="0.9" fill="#1a7a9a" /><rect x="79.89999999999999" y="320.5" width="1.8" height="1.4" fill="#a82a3a" /><rect x="79.89999999999999" y="322.2" width="1.8" height="0.7" fill="#7a7e84" /><rect x="79.89999999999999" y="323.6" width="1.8" height="0.7" fill="#6a6e74" /><rect x="79.89999999999999" y="325.2" width="1.8" height="1.0" fill="#bfc2c6" /><rect x="80.5" y="327" width="0.6" height="7.5" fill="#1e3a28" /><rect x="80.3" y="330" width="1" height="1.6" fill="#2c4a36" /><rect x="82.80000000000001" y="316" width="2.2" height="18.5" fill="#141c26" /><circle cx="83.9" cy="317.8" r="1.25" fill="#20c8c0"/><rect x="83.0" y="319.3" width="1.8" height="0.9" fill="#1a7a9a" /><rect x="83.0" y="320.5" width="1.8" height="1.4" fill="#a82a3a" /><rect x="83.0" y="322.2" width="1.8" height="0.7" fill="#7a7e84" /><rect x="83.0" y="323.6" width="1.8" height="0.7" fill="#6a6e74" /><rect x="83.0" y="325.2" width="1.8" height="1.0" fill="#bfc2c6" /><rect x="83.60000000000001" y="327" width="0.6" height="7.5" fill="#1e3a28" /><rect x="83.4" y="330" width="1" height="1.6" fill="#2c4a36" /><rect x="85.9" y="316" width="2.2" height="18.5" fill="#141c26" /><circle cx="87.0" cy="317.8" r="1.25" fill="#20c8c0"/><rect x="86.1" y="319.3" width="1.8" height="0.9" fill="#1a7a9a" /><rect x="86.1" y="320.5" width="1.8" height="1.4" fill="#a82a3a" /><rect x="86.1" y="322.2" width="1.8" height="0.7" fill="#7a7e84" /><rect x="86.1" y="323.6" width="1.8" height="0.7" fill="#6a6e74" /><rect x="86.1" y="325.2" width="1.8" height="1.0" fill="#bfc2c6" /><rect x="86.7" y="327" width="0.6" height="7.5" fill="#1e3a28" /><rect x="86.5" y="330" width="1" height="1.6" fill="#2c4a36" /><rect x="89.0" y="316" width="2.2" height="18.5" fill="#141c26" /><circle cx="90.1" cy="317.8" r="1.25" fill="#20c8c0"/><rect x="89.19999999999999" y="319.3" width="1.8" height="0.9" fill="#1a7a9a" /><rect x="89.19999999999999" y="320.5" width="1.8" height="1.4" fill="#a82a3a" /><rect x="89.19999999999999" y="322.2" width="1.8" height="0.7" fill="#7a7e84" /><rect x="89.19999999999999" y="323.6" width="1.8" height="0.7" fill="#6a6e74" /><rect x="89.19999999999999" y="325.2" width="1.8" height="1.0" fill="#bfc2c6" /><rect x="89.8" y="327" width="0.6" height="7.5" fill="#1e3a28" /><rect x="89.6" y="330" width="1" height="1.6" fill="#2c4a36" /><rect x="92.5" y="316" width="2.2" height="18.5" fill="#141c26" /><circle cx="93.6" cy="317.8" r="1.25" fill="#20c8c0"/><rect x="92.69999999999999" y="319.3" width="1.8" height="0.9" fill="#1a7a9a" /><rect x="92.69999999999999" y="320.5" width="1.8" height="1.4" fill="#a82a3a" /><rect x="92.69999999999999" y="322.2" width="1.8" height="0.7" fill="#7a7e84" /><rect x="92.69999999999999" y="323.6" width="1.8" height="0.7" fill="#6a6e74" /><rect x="92.69999999999999" y="325.2" width="1.8" height="1.0" fill="#bfc2c6" /><rect x="93.3" y="327" width="0.6" height="7.5" fill="#1e3a28" /><rect x="93.1" y="330" width="1" height="1.6" fill="#2c4a36" /><rect x="95.7" y="316" width="2.2" height="18.5" fill="#141c26" /><rect x="95.8" y="316.5" width="2" height="2.2" fill="#3a3e44" /><rect x="95.89999999999999" y="322.2" width="1.8" height="0.7" fill="#7a7e84" /><rect x="95.89999999999999" y="323.6" width="1.8" height="0.7" fill="#6a6e74" /><rect x="95.89999999999999" y="325.2" width="1.8" height="1.0" fill="#bfc2c6" /><rect x="96.5" y="327" width="0.6" height="7.5" fill="#1e3a28" /><rect x="96.3" y="330" width="1" height="1.6" fill="#2c4a36" /><rect x="98.7" y="316" width="2.2" height="18.5" fill="#141c26" /><circle cx="99.8" cy="317.8" r="1.25" fill="#22b84a"/><rect x="98.89999999999999" y="319.3" width="1.8" height="0.9" fill="#1a7a9a" /><rect x="98.89999999999999" y="320.5" width="1.8" height="1.4" fill="#a82a3a" /><rect x="98.89999999999999" y="322.2" width="1.8" height="0.7" fill="#7a7e84" /><rect x="98.89999999999999" y="323.6" width="1.8" height="0.7" fill="#6a6e74" /><rect x="98.89999999999999" y="325.2" width="1.8" height="1.0" fill="#bfc2c6" /><rect x="99.5" y="327" width="0.6" height="7.5" fill="#1e3a28" /><rect x="99.3" y="330" width="1" height="1.6" fill="#2c4a36" /><rect x="101.9" y="316" width="2.2" height="18.5" fill="#141c26" /><circle cx="103.0" cy="317.8" r="1.25" fill="#22b84a"/><rect x="102.1" y="319.3" width="1.8" height="0.9" fill="#1a7a9a" /><rect x="102.1" y="320.5" width="1.8" height="1.4" fill="#a82a3a" /><rect x="102.1" y="322.2" width="1.8" height="0.7" fill="#7a7e84" /><rect x="102.1" y="323.6" width="1.8" height="0.7" fill="#6a6e74" /><rect x="102.1" y="325.2" width="1.8" height="1.0" fill="#bfc2c6" /><rect x="102.7" y="327" width="0.6" height="7.5" fill="#1e3a28" /><rect x="102.5" y="330" width="1" height="1.6" fill="#2c4a36" /><rect x="104.9" y="316" width="2.2" height="18.5" fill="#141c26" /><circle cx="106.0" cy="317.8" r="1.25" fill="#22b84a"/><rect x="105.1" y="319.3" width="1.8" height="0.9" fill="#1a7a9a" /><rect x="105.1" y="320.5" width="1.8" height="1.4" fill="#a82a3a" /><rect x="105.1" y="322.2" width="1.8" height="0.7" fill="#7a7e84" /><rect x="105.1" y="323.6" width="1.8" height="0.7" fill="#6a6e74" /><rect x="105.1" y="325.2" width="1.8" height="1.0" fill="#bfc2c6" /><rect x="105.7" y="327" width="0.6" height="7.5" fill="#1e3a28" /><rect x="105.5" y="330" width="1" height="1.6" fill="#2c4a36" /><rect x="107.9" y="316" width="2.2" height="18.5" fill="#141c26" /><circle cx="109.0" cy="317.8" r="1.25" fill="#22b84a"/><rect x="108.1" y="319.3" width="1.8" height="0.9" fill="#1a7a9a" /><rect x="108.1" y="320.5" width="1.8" height="1.4" fill="#a82a3a" /><rect x="108.1" y="322.2" width="1.8" height="0.7" fill="#7a7e84" /><rect x="108.1" y="323.6" width="1.8" height="0.7" fill="#6a6e74" /><rect x="108.1" y="325.2" width="1.8" height="1.0" fill="#bfc2c6" /><rect x="108.7" y="327" width="0.6" height="7.5" fill="#1e3a28" /><rect x="108.5" y="330" width="1" height="1.6" fill="#2c4a36" /><rect x="114.10000000000001" y="316" width="2.2" height="18.5" fill="#141c26" /><circle cx="115.2" cy="317.8" r="1.25" fill="#2a6ae0"/><rect x="114.3" y="319.3" width="1.8" height="0.9" fill="#1a7a9a" /><rect x="114.3" y="322.2" width="1.8" height="0.7" fill="#7a7e84" /><rect x="114.3" y="323.6" width="1.8" height="0.7" fill="#6a6e74" /><rect x="114.3" y="325.2" width="1.8" height="1.0" fill="#bfc2c6" /><rect x="114.9" y="327" width="0.6" height="7.5" fill="#1e3a28" /><rect x="114.7" y="330" width="1" height="1.6" fill="#2c4a36" /><rect x="117.30000000000001" y="316" width="2.2" height="18.5" fill="#141c26" /><circle cx="118.4" cy="317.8" r="1.25" fill="#e8e030"/><rect x="117.5" y="319.3" width="1.8" height="0.9" fill="#1a7a9a" /><rect x="117.5" y="322.2" width="1.8" height="0.7" fill="#7a7e84" /><rect x="117.5" y="323.6" width="1.8" height="0.7" fill="#6a6e74" /><rect x="117.5" y="325.2" width="1.8" height="1.0" fill="#bfc2c6" /><rect x="118.10000000000001" y="327" width="0.6" height="7.5" fill="#1e3a28" /><rect x="117.9" y="330" width="1" height="1.6" fill="#2c4a36" /><rect x="120.5" y="316" width="2.2" height="18.5" fill="#141c26" /><circle cx="121.6" cy="317.8" r="1.25" fill="#e8e030"/><rect x="120.69999999999999" y="319.3" width="1.8" height="0.9" fill="#1a7a9a" /><rect x="120.69999999999999" y="322.2" width="1.8" height="0.7" fill="#7a7e84" /><rect x="120.69999999999999" y="323.6" width="1.8" height="0.7" fill="#6a6e74" /><rect x="120.69999999999999" y="325.2" width="1.8" height="1.0" fill="#bfc2c6" /><rect x="121.3" y="327" width="0.6" height="7.5" fill="#1e3a28" /><rect x="121.1" y="330" width="1" height="1.6" fill="#2c4a36" /><rect x="123.5" y="316" width="2.2" height="18.5" fill="#141c26" /><circle cx="124.6" cy="317.8" r="1.25" fill="#2a6ae0"/><rect x="123.69999999999999" y="319.3" width="1.8" height="0.9" fill="#1a7a9a" /><rect x="123.69999999999999" y="322.2" width="1.8" height="0.7" fill="#7a7e84" /><rect x="123.69999999999999" y="323.6" width="1.8" height="0.7" fill="#6a6e74" /><rect x="123.69999999999999" y="325.2" width="1.8" height="1.0" fill="#bfc2c6" /><rect x="124.3" y="327" width="0.6" height="7.5" fill="#1e3a28" /><rect x="124.1" y="330" width="1" height="1.6" fill="#2c4a36" /><rect x="126.5" y="316" width="2.2" height="18.5" fill="#141c26" /><circle cx="127.6" cy="317.8" r="1.25" fill="#e040c8"/><rect x="126.69999999999999" y="319.3" width="1.8" height="0.9" fill="#1a7a9a" /><rect x="126.69999999999999" y="322.2" width="1.8" height="0.7" fill="#7a7e84" /><rect x="126.69999999999999" y="323.6" width="1.8" height="0.7" fill="#6a6e74" /><rect x="126.69999999999999" y="325.2" width="1.8" height="1.0" fill="#bfc2c6" /><rect x="127.3" y="327" width="0.6" height="7.5" fill="#1e3a28" /><rect x="127.1" y="330" width="1" height="1.6" fill="#2c4a36" /><rect x="129.70000000000002" y="316" width="2.2" height="18.5" fill="#141c26" /><circle cx="130.8" cy="317.8" r="1.25" fill="#20c8c0"/><rect x="129.9" y="319.3" width="1.8" height="0.9" fill="#1a7a9a" /><rect x="129.9" y="320.5" width="1.8" height="1.4" fill="#a82a3a" /><rect x="129.9" y="322.2" width="1.8" height="0.7" fill="#7a7e84" /><rect x="129.9" y="323.6" width="1.8" height="0.7" fill="#6a6e74" /><rect x="129.9" y="325.2" width="1.8" height="1.0" fill="#bfc2c6" /><rect x="130.5" y="327" width="0.6" height="7.5" fill="#1e3a28" /><rect x="130.3" y="330" width="1" height="1.6" fill="#2c4a36" /><rect x="132.70000000000002" y="316" width="2.2" height="18.5" fill="#141c26" /><circle cx="133.8" cy="317.8" r="1.25" fill="#22b84a"/><rect x="132.9" y="319.3" width="1.8" height="0.9" fill="#1a7a9a" /><rect x="132.9" y="322.2" width="1.8" height="0.7" fill="#7a7e84" /><rect x="132.9" y="323.6" width="1.8" height="0.7" fill="#6a6e74" /><rect x="132.9" y="325.2" width="1.8" height="1.0" fill="#bfc2c6" /><rect x="133.5" y="327" width="0.6" height="7.5" fill="#1e3a28" /><rect x="133.3" y="330" width="1" height="1.6" fill="#2c4a36" /><rect x="135.70000000000002" y="316" width="2.2" height="18.5" fill="#141c26" /><circle cx="136.8" cy="317.8" r="1.25" fill="#22b84a"/><rect x="135.9" y="319.3" width="1.8" height="0.9" fill="#1a7a9a" /><rect x="135.9" y="322.2" width="1.8" height="0.7" fill="#7a7e84" /><rect x="135.9" y="323.6" width="1.8" height="0.7" fill="#6a6e74" /><rect x="135.9" y="325.2" width="1.8" height="1.0" fill="#bfc2c6" /><rect x="136.5" y="327" width="0.6" height="7.5" fill="#1e3a28" /><rect x="136.3" y="330" width="1" height="1.6" fill="#2c4a36" /><rect x="138.70000000000002" y="316" width="2.2" height="18.5" fill="#141c26" /><circle cx="139.8" cy="317.8" r="1.25" fill="#22b84a"/><rect x="138.9" y="319.3" width="1.8" height="0.9" fill="#1a7a9a" /><rect x="138.9" y="322.2" width="1.8" height="0.7" fill="#7a7e84" /><rect x="138.9" y="323.6" width="1.8" height="0.7" fill="#6a6e74" /><rect x="138.9" y="325.2" width="1.8" height="1.0" fill="#bfc2c6" /><rect x="139.5" y="327" width="0.6" height="7.5" fill="#1e3a28" /><rect x="139.3" y="330" width="1" height="1.6" fill="#2c4a36" /><rect x="141.8" y="316" width="2.2" height="18.5" fill="#141c26" /><circle cx="142.9" cy="317.8" r="1.25" fill="#22b84a"/><rect x="142.0" y="319.3" width="1.8" height="0.9" fill="#1a7a9a" /><rect x="142.0" y="322.2" width="1.8" height="0.7" fill="#7a7e84" /><rect x="142.0" y="323.6" width="1.8" height="0.7" fill="#6a6e74" /><rect x="142.0" y="325.2" width="1.8" height="1.0" fill="#bfc2c6" /><rect x="142.6" y="327" width="0.6" height="7.5" fill="#1e3a28" /><rect x="142.4" y="330" width="1" height="1.6" fill="#2c4a36" /><rect x="144.9" y="316" width="2.2" height="18.5" fill="#141c26" /><circle cx="146.0" cy="317.8" r="1.25" fill="#20c8c0"/><rect x="145.1" y="319.3" width="1.8" height="0.9" fill="#1a7a9a" /><rect x="145.1" y="320.5" width="1.8" height="1.4" fill="#a82a3a" /><rect x="145.1" y="322.2" width="1.8" height="0.7" fill="#7a7e84" /><rect x="145.1" y="323.6" width="1.8" height="0.7" fill="#6a6e74" /><rect x="145.1" y="325.2" width="1.8" height="1.0" fill="#bfc2c6" /><rect x="145.7" y="327" width="0.6" height="7.5" fill="#1e3a28" /><rect x="145.5" y="330" width="1" height="1.6" fill="#2c4a36" /><rect x="148.1" y="316" width="2.2" height="18.5" fill="#141c26" /><circle cx="149.2" cy="317.8" r="1.25" fill="#e8e030"/><rect x="148.29999999999998" y="319.3" width="1.8" height="0.9" fill="#1a7a9a" /><rect x="148.29999999999998" y="322.2" width="1.8" height="0.7" fill="#7a7e84" /><rect x="148.29999999999998" y="323.6" width="1.8" height="0.7" fill="#6a6e74" /><rect x="148.29999999999998" y="325.2" width="1.8" height="1.0" fill="#bfc2c6" /><rect x="148.89999999999998" y="327" width="0.6" height="7.5" fill="#1e3a28" /><rect x="148.7" y="330" width="1" height="1.6" fill="#2c4a36" /><rect x="70.2" y="327.5" width="2" height="1.5" fill="#6a6a70" /><rect x="70.2" y="330" width="2" height="1.5" fill="#2aa040" /><rect x="70.2" y="332.5" width="2" height="1.5" fill="#6a6a70" /><rect x="110.8" y="327.5" width="2" height="1.5" fill="#6a6a70" /><rect x="110.8" y="330" width="2" height="1.5" fill="#2aa040" /><rect x="110.8" y="332.5" width="2" height="1.5" fill="#6a6a70" /><rect x="152.2" y="328" width="1.5" height="1.5" fill="#2aa040" /><rect x="152.2" y="331" width="1.5" height="1.5" fill="#6a6a70" /><rect x="98.1" y="316.3" width="3.5" height="18" fill="none" stroke="#8a7a10" stroke-width="0.6"/><rect x="31" y="334.6" width="123" height="51.9" fill="#0d1620" /><rect x="31" y="334.6" width="123" height="0.6" fill="#1a2a3a" /><rect x="39.1" y="336.1" width="6.8" height="2.9" rx="0.6" fill="#c4c6c8"/><rect x="41" y="337.3" width="3" height="0.6" fill="#707070" /><rect x="39.1" y="341.0" width="6.8" height="2.9" rx="0.6" fill="#c4c6c8"/><rect x="41" y="342.2" width="3" height="0.6" fill="#707070" /><rect x="39.1" y="345.8" width="6.8" height="2.9" rx="0.6" fill="#c4c6c8"/><rect x="41" y="347.0" width="3" height="0.6" fill="#707070" /><rect x="39.1" y="350.6" width="6.8" height="2.9" rx="0.6" fill="#c4c6c8"/><rect x="41" y="351.8" width="3" height="0.6" fill="#707070" /><rect x="39.1" y="355.4" width="6.8" height="2.9" rx="0.6" fill="#c4c6c8"/><rect x="41" y="356.59999999999997" width="3" height="0.6" fill="#707070" /><rect x="33" y="346" width="4" height="0.7" fill="#4a1c20" /><rect x="34" y="343" width="2" height="1.0" fill="#1a4a66" /><rect x="33" y="349.5" width="4" height="0.7" fill="#4a1c20" /><rect x="33" y="338" width="5" height="0.6" fill="#2a3848" /><rect x="33" y="353" width="5" height="0.6" fill="#2a3848" /><rect x="46" y="335.3" width="8.8" height="39.3" fill="#565c64" /><rect x="46.5" y="336" width="7.5" height="3.4" fill="#22b24a" /><circle cx="50" cy="343.6" r="1.4" fill="#e01818"/><circle cx="48.5" cy="352.6" r="1.3" fill="#e8d820"/><rect x="52.3" y="349.5" width="0.8" height="5" fill="#3aa050" /><rect x="47" y="359.5" width="6" height="4" fill="#3a7a2a" /><rect x="47.5" y="366" width="5" height="0.8" fill="#a0a4a8" /><rect x="47.5" y="368" width="5" height="0.8" fill="#a0a4a8" /><rect x="47" y="370.5" width="6" height="2.2" fill="#2a2e34" /><rect x="55" y="336" width="33" height="2.6" fill="#2a3038" /><rect x="56" y="336.9" width="30" height="0.7" fill="#6a7078" /><rect x="88" y="336" width="4.2" height="2.6" fill="#2aa6e6" /><rect x="55" y="338.6" width="52" height="25" fill="#4a5058" /><rect x="55.6" y="340.4" width="51" height="22.4" fill="#1d2024" /><rect x="56.2" y="342.6" width="3.8" height="1.8" fill="#e8e8e8" /><rect x="61" y="342.8" width="10" height="0.7" fill="#8a8a8a" /><circle cx="76.5" cy="343" r="0.7" fill="#c02020"/><rect x="77" y="344" width="1.2" height="3.5" fill="#707070" /><rect x="81" y="343.5" width="15" height="1.4" fill="#c89a20" /><rect x="96" y="343.5" width="9" height="1.4" fill="#b02828" /><rect x="81" y="345.8" width="24" height="0.5" fill="#5a2020" /><rect x="60" y="350.3" width="12" height="0.6" fill="#707070" /><circle cx="62.3" cy="355.2" r="1.9" fill="#e81820"/><path d="M70.5,357.5 Q72.5,354 74.5,357.5" stroke="#2a9ab0" stroke-width="0.9" fill="none"/><circle cx="73.5" cy="353.6" r="0.6" fill="#c02020"/><circle cx="84.2" cy="355.4" r="1.8" fill="#2a86d0"/><circle cx="99" cy="355" r="1.7" fill="#2a8a3a"/><circle cx="62.3" cy="355.2" r="3" fill="none" stroke="#5a5e64" stroke-width="0.4" stroke-dasharray="0.6 1"/><circle cx="84.2" cy="355.4" r="3" fill="none" stroke="#5a5e64" stroke-width="0.4" stroke-dasharray="0.6 1"/><circle cx="99" cy="355" r="3" fill="none" stroke="#5a5e64" stroke-width="0.4" stroke-dasharray="0.6 1"/><rect x="82" y="358.5" width="5" height="0.7" fill="#8a8a8a" /><rect x="97" y="358.5" width="5" height="0.7" fill="#8a8a8a" /><rect x="55" y="363.3" width="52" height="11.3" fill="#4c535b" /><rect x="56.5" y="364.5" width="13" height="9" fill="#3e454c" /><rect x="59" y="366" width="7.5" height="2" fill="#1c8a5a" /><rect x="57.5" y="369.3" width="10" height="2.6" fill="#1c4a6a" /><rect x="70.5" y="364.5" width="36" height="9" fill="#3a4048" /><rect x="71" y="368" width="4" height="2" fill="#9aa0a6" /><rect x="76.5" y="367" width="20" height="5" fill="#3a0606" /><rect x="98" y="365" width="8" height="2.5" fill="#0c1410" /><rect x="99.5" y="368.3" width="5" height="3.5" fill="#1e7a5a" /><rect x="107" y="335.3" width="8.5" height="39.3" fill="#565c64" /><rect x="107.8" y="336" width="7" height="3.5" fill="#e8e020" /><rect x="108" y="341" width="6" height="5.5" fill="#2a2e34" /><rect x="108.5" y="342" width="3.5" height="4" fill="#0a0a0a" /><rect x="108" y="350" width="4" height="1.2" fill="#b0a040" /><circle cx="113.5" cy="350" r="0.8" fill="#e8d020"/><rect x="108" y="354.8" width="5" height="1.2" fill="#c03030" /><circle cx="113.5" cy="354.5" r="0.7" fill="#e02020"/><ellipse cx="110.5" cy="362.5" rx="2.5" ry="1.5" fill="#b0b4b8"/><rect x="108" y="365" width="3" height="1.2" fill="#2aa0a0" /><rect x="108" y="369" width="3" height="1.2" fill="#b04040" /><rect x="108" y="372" width="3" height="1.2" fill="#3aa040" /><rect x="116" y="336.0" width="6.4" height="3.2" rx="0.6" fill="#b4b8bc"/><rect x="116" y="341.0" width="6.4" height="3.2" rx="0.6" fill="#b4b8bc"/><rect x="116" y="345.7" width="6.4" height="3.2" rx="0.6" fill="#b4b8bc"/><rect x="116" y="350.5" width="6.4" height="3.2" rx="0.6" fill="#b4b8bc"/><rect x="116" y="355.2" width="6.4" height="3.2" rx="0.6" fill="#b4b8bc"/><rect x="116" y="359.8" width="6.4" height="3.2" rx="0.6" fill="#b4b8bc"/><rect x="116" y="364.5" width="6.4" height="3.2" rx="0.6" fill="#b4b8bc"/><rect x="116" y="369.5" width="6.4" height="3.2" rx="0.6" fill="#b4b8bc"/><rect x="116" y="374.2" width="6.4" height="3.2" rx="0.6" fill="#b4b8bc"/><rect x="116" y="379" width="6.4" height="3.8" rx="0.6" fill="#20d050"/><rect x="123" y="335.5" width="14.5" height="15" fill="#0e1826" /><rect x="135.5" y="335.8" width="1.8" height="1.8" fill="#2a9ad0" /><rect x="123.5" y="351.4" width="6.5" height="1.4" fill="#1a6a8a" /><rect x="130.8" y="351.4" width="6.5" height="1.4" fill="#1a6a8a" /><ellipse cx="127" cy="355.6" rx="2.2" ry="1.2" fill="#9a9ea2"/><ellipse cx="134.2" cy="355.6" rx="2.2" ry="1.2" fill="#9a9ea2"/><ellipse cx="134.2" cy="359.5" rx="2.2" ry="1.2" fill="#9a9ea2"/><ellipse cx="127" cy="363" rx="2.2" ry="1.2" fill="#9a9ea2"/><ellipse cx="134.2" cy="363.5" rx="2.2" ry="1.2" fill="#9a9ea2"/><rect x="126.5" y="358.5" width="1" height="2" fill="#888" /><rect x="123.5" y="367.5" width="21" height="1.2" fill="#1a6a8a" /><ellipse cx="130" cy="372.5" rx="2.3" ry="1.2" fill="#a0a4a8"/><ellipse cx="137.5" cy="372.5" rx="2.3" ry="1.2" fill="#a0a4a8"/><ellipse cx="126.5" cy="376.5" rx="2.3" ry="1.2" fill="#a0a4a8"/><ellipse cx="141.3" cy="376.5" rx="2.3" ry="1.2" fill="#a0a4a8"/><ellipse cx="130" cy="380.5" rx="2.3" ry="1.2" fill="#a0a4a8"/><ellipse cx="137.5" cy="380.5" rx="2.3" ry="1.2" fill="#a0a4a8"/><rect x="133.5" y="375.5" width="1.2" height="2.5" fill="#888" /><rect x="124" y="383.5" width="10" height="2.5" fill="#c0c020" /><rect x="134" y="383.5" width="11" height="2.5" fill="#1a9a2a" /><rect x="138" y="335.5" width="7.5" height="32" fill="#0a1410" /><rect x="139.25" y="337" width="0.7" height="25" fill="#1e5e2c" /><rect x="139.25" y="340" width="0.7" height="1" fill="#3a9a4a" /><rect x="139.25" y="356" width="0.7" height="1" fill="#3a9a4a" /><rect x="141.25" y="337" width="0.7" height="25" fill="#1e5e2c" /><rect x="141.25" y="340" width="0.7" height="1" fill="#3a9a4a" /><rect x="141.25" y="356" width="0.7" height="1" fill="#3a9a4a" /><rect x="143.25" y="337" width="0.7" height="25" fill="#1e5e2c" /><rect x="143.25" y="340" width="0.7" height="1" fill="#3a9a4a" /><rect x="143.25" y="356" width="0.7" height="1" fill="#3a9a4a" /><rect x="139" y="363" width="5" height="2" fill="#555" /><rect x="146" y="335" width="8" height="51.5" fill="#0d1620" /><rect x="146.5" y="335.3" width="6.8" height="2.2" fill="#1a6a8a" /><rect x="147" y="340.1" width="5.2" height="2.8" rx="0.6" fill="#aeb2b6"/><rect x="147" y="344.1" width="5.2" height="2.8" rx="0.6" fill="#aeb2b6"/><rect x="147" y="348.1" width="5.2" height="2.8" rx="0.6" fill="#aeb2b6"/><rect x="147" y="352.1" width="5.2" height="2.8" rx="0.6" fill="#aeb2b6"/><rect x="147" y="356.1" width="5.2" height="2.8" rx="0.6" fill="#aeb2b6"/><rect x="147" y="360.1" width="5.2" height="2.8" rx="0.6" fill="#aeb2b6"/><rect x="147" y="364.1" width="5.2" height="2.8" rx="0.6" fill="#aeb2b6"/><rect x="147" y="368.1" width="5.2" height="2.8" rx="0.6" fill="#aeb2b6"/><rect x="147" y="372.1" width="5.2" height="2.8" rx="0.6" fill="#aeb2b6"/><rect x="147" y="376.1" width="5.2" height="2.8" rx="0.6" fill="#aeb2b6"/><rect x="148.8" y="384.3" width="1.6" height="1.6" fill="#1a8ad0" /><rect x="46" y="374.6" width="69" height="0.9" fill="#6a7078" /><rect x="46" y="375.5" width="69" height="11" fill="#0f1215" /><path d="M46,386.5 L46,379.8 L58,379.6 Q66,379.5 74,381.3 Q76,382.2 78,381.2 Q90,379.8 115,380 L115,386.5 Z" fill="#141a18"/><path d="M46,386.5 L46,379.8 L58,379.6 Q64,380.2 69,386.5 Z" fill="#1a8426"/><path d="M72,381 Q75.5,382.8 79,381" stroke="#2ab0b0" stroke-width="0.8" fill="none"/><path d="M79,380.6 Q95,379.6 115,380" stroke="#a04a30" stroke-width="0.6" fill="none"/></svg><svg width="800" height="430" viewBox="0 0 800 430"><defs><linearGradient id="ear" x1="0" y1="0" x2="1" y2="0"><stop offset="0" stop-color="#0a0a0a"/><stop offset="0.45" stop-color="#3a3a3a"/><stop offset="0.7" stop-color="#6a6a6a"/><stop offset="1" stop-color="#1a1a1a"/></linearGradient><radialGradient id="xlr"><stop offset="0" stop-color="#5a5a5a"/><stop offset="0.5" stop-color="#2e2e2e"/><stop offset="1" stop-color="#121212"/></radialGradient></defs><rect x="683" y="174" width="61.5" height="60.1" fill="#0c0c0c" /><rect x="678.9" y="173.3" width="4.4" height="60.9" fill="url(#ear)" /><rect x="744.2" y="173.3" width="4.5" height="60.9" fill="url(#ear)" /><rect x="680.5" y="178.0" width="1.8" height="1.0" fill="#9a9a9a" /><rect x="745.8" y="178.0" width="1.8" height="1.0" fill="#9a9a9a" /><rect x="680.5" y="192.0" width="1.8" height="1.0" fill="#9a9a9a" /><rect x="745.8" y="192.0" width="1.8" height="1.0" fill="#9a9a9a" /><rect x="680.5" y="215.0" width="1.8" height="1.0" fill="#9a9a9a" /><rect x="745.8" y="215.0" width="1.8" height="1.0" fill="#9a9a9a" /><rect x="680.5" y="229.1" width="1.8" height="1.0" fill="#9a9a9a" /><rect x="745.8" y="229.1" width="1.8" height="1.0" fill="#9a9a9a" /><rect x="680.8" y="180" width="1.2" height="11" fill="#0a0a0a" /><rect x="680.8" y="194" width="1.2" height="20" fill="#0a0a0a" /><rect x="745.9" y="180" width="1.2" height="11" fill="#0a0a0a" /><rect x="745.9" y="194" width="1.2" height="20" fill="#0a0a0a" /><rect x="684" y="175" width="60" height="36" fill="#101010" /><rect x="689.6" y="175" width="0.6" height="36" fill="#202020" /><rect x="694.63" y="175" width="0.6" height="36" fill="#202020" /><rect x="699.66" y="175" width="0.6" height="36" fill="#202020" /><rect x="704.69" y="175" width="0.6" height="36" fill="#202020" /><rect x="709.72" y="175" width="0.6" height="36" fill="#202020" /><rect x="714.75" y="175" width="0.6" height="36" fill="#202020" /><rect x="719.78" y="175" width="0.6" height="36" fill="#202020" /><rect x="724.8100000000001" y="175" width="0.6" height="36" fill="#202020" /><rect x="685.0" y="177.2" width="4.2" height="2.9" fill="#1c1c1c" /><rect x="687.0" y="177.6" width="1.8" height="1.5" fill="#3c3c3c" /><circle cx="686.40" cy="178.50" r="0.9" fill="#8a8a8a"/><rect x="690.03" y="177.2" width="4.2" height="2.9" fill="#1c1c1c" /><rect x="692.03" y="177.6" width="1.8" height="1.5" fill="#3c3c3c" /><circle cx="691.43" cy="178.50" r="0.9" fill="#8a8a8a"/><rect x="695.06" y="177.2" width="4.2" height="2.9" fill="#1c1c1c" /><rect x="697.06" y="177.6" width="1.8" height="1.5" fill="#3c3c3c" /><circle cx="696.46" cy="178.50" r="0.9" fill="#8a8a8a"/><rect x="700.09" y="177.2" width="4.2" height="2.9" fill="#1c1c1c" /><rect x="702.09" y="177.6" width="1.8" height="1.5" fill="#3c3c3c" /><circle cx="701.49" cy="178.50" r="0.9" fill="#8a8a8a"/><rect x="705.12" y="177.2" width="4.2" height="2.9" fill="#1c1c1c" /><rect x="707.12" y="177.6" width="1.8" height="1.5" fill="#3c3c3c" /><circle cx="706.52" cy="178.50" r="0.9" fill="#8a8a8a"/><rect x="710.15" y="177.2" width="4.2" height="2.9" fill="#1c1c1c" /><rect x="712.15" y="177.6" width="1.8" height="1.5" fill="#3c3c3c" /><circle cx="711.55" cy="178.50" r="0.9" fill="#8a8a8a"/><rect x="715.18" y="177.2" width="4.2" height="2.9" fill="#1c1c1c" /><rect x="717.18" y="177.6" width="1.8" height="1.5" fill="#3c3c3c" /><circle cx="716.58" cy="178.50" r="0.9" fill="#8a8a8a"/><rect x="720.21" y="177.2" width="4.2" height="2.9" fill="#1c1c1c" /><rect x="722.21" y="177.6" width="1.8" height="1.5" fill="#3c3c3c" /><circle cx="721.61" cy="178.50" r="0.9" fill="#8a8a8a"/><rect x="727.0" y="177.3" width="3.2" height="2.6" fill="#1e1e1e" /><circle cx="728.30" cy="178.30" r="0.6" fill="#6a6a6a"/><rect x="731.9" y="177.3" width="3.2" height="2.6" fill="#1e1e1e" /><circle cx="733.20" cy="178.30" r="0.6" fill="#6a6a6a"/><rect x="736.8" y="177.3" width="3.2" height="2.6" fill="#1e1e1e" /><circle cx="738.10" cy="178.30" r="0.6" fill="#6a6a6a"/><rect x="685.0" y="181.22" width="4.2" height="2.9" fill="#1c1c1c" /><rect x="687.0" y="181.62" width="1.8" height="1.5" fill="#3c3c3c" /><circle cx="686.40" cy="182.52" r="0.9" fill="#8a8a8a"/><rect x="689.1999999999999" y="182.22" width="1.2" height="0.6" fill="#6a3030" opacity="0.8"/><rect x="690.03" y="181.22" width="4.2" height="2.9" fill="#1c1c1c" /><rect x="692.03" y="181.62" width="1.8" height="1.5" fill="#3c3c3c" /><circle cx="691.43" cy="182.52" r="0.9" fill="#8a8a8a"/><rect x="694.2299999999999" y="182.22" width="1.2" height="0.6" fill="#6a3030" opacity="0.8"/><rect x="695.06" y="181.22" width="4.2" height="2.9" fill="#1c1c1c" /><rect x="697.06" y="181.62" width="1.8" height="1.5" fill="#3c3c3c" /><circle cx="696.46" cy="182.52" r="0.9" fill="#8a8a8a"/><rect x="699.2599999999999" y="182.22" width="1.2" height="0.6" fill="#6a3030" opacity="0.8"/><rect x="700.09" y="181.22" width="4.2" height="2.9" fill="#1c1c1c" /><rect x="702.09" y="181.62" width="1.8" height="1.5" fill="#3c3c3c" /><circle cx="701.49" cy="182.52" r="0.9" fill="#8a8a8a"/><rect x="704.29" y="182.22" width="1.2" height="0.6" fill="#6a3030" opacity="0.8"/><rect x="705.12" y="181.22" width="4.2" height="2.9" fill="#1c1c1c" /><rect x="707.12" y="181.62" width="1.8" height="1.5" fill="#3c3c3c" /><circle cx="706.52" cy="182.52" r="0.9" fill="#8a8a8a"/><rect x="709.3199999999999" y="182.22" width="1.2" height="0.6" fill="#6a3030" opacity="0.8"/><rect x="710.15" y="181.22" width="4.2" height="2.9" fill="#1c1c1c" /><rect x="712.15" y="181.62" width="1.8" height="1.5" fill="#3c3c3c" /><circle cx="711.55" cy="182.52" r="0.9" fill="#8a8a8a"/><rect x="714.3499999999999" y="182.22" width="1.2" height="0.6" fill="#6a3030" opacity="0.8"/><rect x="715.18" y="181.22" width="4.2" height="2.9" fill="#1c1c1c" /><rect x="717.18" y="181.62" width="1.8" height="1.5" fill="#3c3c3c" /><circle cx="716.58" cy="182.52" r="0.9" fill="#8a8a8a"/><rect x="719.3799999999999" y="182.22" width="1.2" height="0.6" fill="#6a3030" opacity="0.8"/><rect x="720.21" y="181.22" width="4.2" height="2.9" fill="#1c1c1c" /><rect x="722.21" y="181.62" width="1.8" height="1.5" fill="#3c3c3c" /><circle cx="721.61" cy="182.52" r="0.9" fill="#8a8a8a"/><rect x="724.41" y="182.22" width="1.2" height="0.6" fill="#6a3030" opacity="0.8"/><rect x="727.0" y="181.32000000000002" width="3.2" height="2.6" fill="#1e1e1e" /><circle cx="728.30" cy="182.32" r="0.6" fill="#6a6a6a"/><rect x="731.9" y="181.32000000000002" width="3.2" height="2.6" fill="#1e1e1e" /><circle cx="733.20" cy="182.32" r="0.6" fill="#6a6a6a"/><rect x="736.8" y="181.32000000000002" width="3.2" height="2.6" fill="#1e1e1e" /><circle cx="738.10" cy="182.32" r="0.6" fill="#6a6a6a"/><rect x="685.0" y="185.23999999999998" width="4.2" height="2.9" fill="#1c1c1c" /><rect x="687.0" y="185.64" width="1.8" height="1.5" fill="#3c3c3c" /><circle cx="686.40" cy="186.54" r="0.9" fill="#8a8a8a"/><rect x="689.1999999999999" y="186.23999999999998" width="1.2" height="0.6" fill="#6a3030" opacity="0.8"/><rect x="690.03" y="185.23999999999998" width="4.2" height="2.9" fill="#1c1c1c" /><rect x="692.03" y="185.64" width="1.8" height="1.5" fill="#3c3c3c" /><circle cx="691.43" cy="186.54" r="0.9" fill="#8a8a8a"/><rect x="694.2299999999999" y="186.23999999999998" width="1.2" height="0.6" fill="#6a3030" opacity="0.8"/><rect x="695.06" y="185.23999999999998" width="4.2" height="2.9" fill="#1c1c1c" /><rect x="697.06" y="185.64" width="1.8" height="1.5" fill="#3c3c3c" /><circle cx="696.46" cy="186.54" r="0.9" fill="#8a8a8a"/><rect x="699.2599999999999" y="186.23999999999998" width="1.2" height="0.6" fill="#6a3030" opacity="0.8"/><rect x="700.09" y="185.23999999999998" width="4.2" height="2.9" fill="#1c1c1c" /><rect x="702.09" y="185.64" width="1.8" height="1.5" fill="#3c3c3c" /><circle cx="701.49" cy="186.54" r="0.9" fill="#8a8a8a"/><rect x="704.29" y="186.23999999999998" width="1.2" height="0.6" fill="#6a3030" opacity="0.8"/><rect x="705.12" y="185.23999999999998" width="4.2" height="2.9" fill="#1c1c1c" /><rect x="707.12" y="185.64" width="1.8" height="1.5" fill="#3c3c3c" /><circle cx="706.52" cy="186.54" r="0.9" fill="#8a8a8a"/><rect x="709.3199999999999" y="186.23999999999998" width="1.2" height="0.6" fill="#6a3030" opacity="0.8"/><rect x="710.15" y="185.23999999999998" width="4.2" height="2.9" fill="#1c1c1c" /><rect x="712.15" y="185.64" width="1.8" height="1.5" fill="#3c3c3c" /><circle cx="711.55" cy="186.54" r="0.9" fill="#8a8a8a"/><rect x="714.3499999999999" y="186.23999999999998" width="1.2" height="0.6" fill="#6a3030" opacity="0.8"/><rect x="715.18" y="185.23999999999998" width="4.2" height="2.9" fill="#1c1c1c" /><rect x="717.18" y="185.64" width="1.8" height="1.5" fill="#3c3c3c" /><circle cx="716.58" cy="186.54" r="0.9" fill="#8a8a8a"/><rect x="719.3799999999999" y="186.23999999999998" width="1.2" height="0.6" fill="#6a3030" opacity="0.8"/><rect x="720.21" y="185.23999999999998" width="4.2" height="2.9" fill="#1c1c1c" /><rect x="722.21" y="185.64" width="1.8" height="1.5" fill="#3c3c3c" /><circle cx="721.61" cy="186.54" r="0.9" fill="#8a8a8a"/><rect x="724.41" y="186.23999999999998" width="1.2" height="0.6" fill="#6a3030" opacity="0.8"/><rect x="727.0" y="185.34" width="3.2" height="2.6" fill="#1e1e1e" /><circle cx="728.30" cy="186.34" r="0.6" fill="#6a6a6a"/><rect x="731.9" y="185.34" width="3.2" height="2.6" fill="#1e1e1e" /><circle cx="733.20" cy="186.34" r="0.6" fill="#6a6a6a"/><rect x="736.8" y="185.34" width="3.2" height="2.6" fill="#1e1e1e" /><circle cx="738.10" cy="186.34" r="0.6" fill="#6a6a6a"/><rect x="685.0" y="189.26" width="4.2" height="2.9" fill="#1c1c1c" /><rect x="687.0" y="189.66" width="1.8" height="1.5" fill="#3c3c3c" /><circle cx="686.40" cy="190.56" r="0.9" fill="#8a8a8a"/><rect x="689.1999999999999" y="190.26" width="1.2" height="0.6" fill="#6a3030" opacity="0.8"/><rect x="690.03" y="189.26" width="4.2" height="2.9" fill="#1c1c1c" /><rect x="692.03" y="189.66" width="1.8" height="1.5" fill="#3c3c3c" /><circle cx="691.43" cy="190.56" r="0.9" fill="#8a8a8a"/><rect x="694.2299999999999" y="190.26" width="1.2" height="0.6" fill="#6a3030" opacity="0.8"/><rect x="695.06" y="189.26" width="4.2" height="2.9" fill="#1c1c1c" /><rect x="697.06" y="189.66" width="1.8" height="1.5" fill="#3c3c3c" /><circle cx="696.46" cy="190.56" r="0.9" fill="#8a8a8a"/><rect x="699.2599999999999" y="190.26" width="1.2" height="0.6" fill="#6a3030" opacity="0.8"/><rect x="700.09" y="189.26" width="4.2" height="2.9" fill="#1c1c1c" /><rect x="702.09" y="189.66" width="1.8" height="1.5" fill="#3c3c3c" /><circle cx="701.49" cy="190.56" r="0.9" fill="#8a8a8a"/><rect x="704.29" y="190.26" width="1.2" height="0.6" fill="#6a3030" opacity="0.8"/><rect x="705.12" y="189.26" width="4.2" height="2.9" fill="#1c1c1c" /><rect x="707.12" y="189.66" width="1.8" height="1.5" fill="#3c3c3c" /><circle cx="706.52" cy="190.56" r="0.9" fill="#8a8a8a"/><rect x="709.3199999999999" y="190.26" width="1.2" height="0.6" fill="#6a3030" opacity="0.8"/><rect x="710.15" y="189.26" width="4.2" height="2.9" fill="#1c1c1c" /><rect x="712.15" y="189.66" width="1.8" height="1.5" fill="#3c3c3c" /><circle cx="711.55" cy="190.56" r="0.9" fill="#8a8a8a"/><rect x="714.3499999999999" y="190.26" width="1.2" height="0.6" fill="#6a3030" opacity="0.8"/><rect x="715.18" y="189.26" width="4.2" height="2.9" fill="#1c1c1c" /><rect x="717.18" y="189.66" width="1.8" height="1.5" fill="#3c3c3c" /><circle cx="716.58" cy="190.56" r="0.9" fill="#8a8a8a"/><rect x="719.3799999999999" y="190.26" width="1.2" height="0.6" fill="#6a3030" opacity="0.8"/><rect x="720.21" y="189.26" width="4.2" height="2.9" fill="#1c1c1c" /><rect x="722.21" y="189.66" width="1.8" height="1.5" fill="#3c3c3c" /><circle cx="721.61" cy="190.56" r="0.9" fill="#8a8a8a"/><rect x="724.41" y="190.26" width="1.2" height="0.6" fill="#6a3030" opacity="0.8"/><rect x="727.0" y="189.36" width="3.2" height="2.6" fill="#1e1e1e" /><circle cx="728.30" cy="190.36" r="0.6" fill="#6a6a6a"/><rect x="731.9" y="189.36" width="3.2" height="2.6" fill="#1e1e1e" /><circle cx="733.20" cy="190.36" r="0.6" fill="#6a6a6a"/><rect x="736.8" y="189.36" width="3.2" height="2.6" fill="#1e1e1e" /><circle cx="738.10" cy="190.36" r="0.6" fill="#6a6a6a"/><rect x="685.0" y="193.27999999999997" width="4.2" height="2.9" fill="#1c1c1c" /><rect x="687.0" y="193.67999999999998" width="1.8" height="1.5" fill="#3c3c3c" /><circle cx="686.40" cy="194.58" r="0.9" fill="#8a8a8a"/><rect x="689.1999999999999" y="194.27999999999997" width="1.2" height="0.6" fill="#6a3030" opacity="0.8"/><rect x="690.03" y="193.27999999999997" width="4.2" height="2.9" fill="#1c1c1c" /><rect x="692.03" y="193.67999999999998" width="1.8" height="1.5" fill="#3c3c3c" /><circle cx="691.43" cy="194.58" r="0.9" fill="#8a8a8a"/><rect x="694.2299999999999" y="194.27999999999997" width="1.2" height="0.6" fill="#6a3030" opacity="0.8"/><rect x="695.06" y="193.27999999999997" width="4.2" height="2.9" fill="#1c1c1c" /><rect x="697.06" y="193.67999999999998" width="1.8" height="1.5" fill="#3c3c3c" /><circle cx="696.46" cy="194.58" r="0.9" fill="#8a8a8a"/><rect x="699.2599999999999" y="194.27999999999997" width="1.2" height="0.6" fill="#6a3030" opacity="0.8"/><rect x="700.09" y="193.27999999999997" width="4.2" height="2.9" fill="#1c1c1c" /><rect x="702.09" y="193.67999999999998" width="1.8" height="1.5" fill="#3c3c3c" /><circle cx="701.49" cy="194.58" r="0.9" fill="#8a8a8a"/><rect x="704.29" y="194.27999999999997" width="1.2" height="0.6" fill="#6a3030" opacity="0.8"/><rect x="705.12" y="193.27999999999997" width="4.2" height="2.9" fill="#1c1c1c" /><rect x="707.12" y="193.67999999999998" width="1.8" height="1.5" fill="#3c3c3c" /><circle cx="706.52" cy="194.58" r="0.9" fill="#8a8a8a"/><rect x="709.3199999999999" y="194.27999999999997" width="1.2" height="0.6" fill="#6a3030" opacity="0.8"/><rect x="710.15" y="193.27999999999997" width="4.2" height="2.9" fill="#1c1c1c" /><rect x="712.15" y="193.67999999999998" width="1.8" height="1.5" fill="#3c3c3c" /><circle cx="711.55" cy="194.58" r="0.9" fill="#8a8a8a"/><rect x="714.3499999999999" y="194.27999999999997" width="1.2" height="0.6" fill="#6a3030" opacity="0.8"/><rect x="715.18" y="193.27999999999997" width="4.2" height="2.9" fill="#1c1c1c" /><rect x="717.18" y="193.67999999999998" width="1.8" height="1.5" fill="#3c3c3c" /><circle cx="716.58" cy="194.58" r="0.9" fill="#8a8a8a"/><rect x="719.3799999999999" y="194.27999999999997" width="1.2" height="0.6" fill="#6a3030" opacity="0.8"/><rect x="720.21" y="193.27999999999997" width="4.2" height="2.9" fill="#1c1c1c" /><rect x="722.21" y="193.67999999999998" width="1.8" height="1.5" fill="#3c3c3c" /><circle cx="721.61" cy="194.58" r="0.9" fill="#8a8a8a"/><rect x="724.41" y="194.27999999999997" width="1.2" height="0.6" fill="#6a3030" opacity="0.8"/><rect x="727.0" y="193.38" width="3.2" height="2.6" fill="#1e1e1e" /><circle cx="728.30" cy="194.38" r="0.6" fill="#6a6a6a"/><rect x="731.9" y="193.38" width="3.2" height="2.6" fill="#1e1e1e" /><circle cx="733.20" cy="194.38" r="0.6" fill="#6a6a6a"/><rect x="736.8" y="193.38" width="3.2" height="2.6" fill="#1e1e1e" /><circle cx="738.10" cy="194.38" r="0.6" fill="#6a6a6a"/><rect x="685.0" y="197.29999999999998" width="4.2" height="2.9" fill="#1c1c1c" /><rect x="687.0" y="197.7" width="1.8" height="1.5" fill="#3c3c3c" /><circle cx="686.40" cy="198.60" r="0.9" fill="#8a8a8a"/><rect x="689.1999999999999" y="198.29999999999998" width="1.2" height="0.6" fill="#6a3030" opacity="0.8"/><rect x="690.03" y="197.29999999999998" width="4.2" height="2.9" fill="#1c1c1c" /><rect x="692.03" y="197.7" width="1.8" height="1.5" fill="#3c3c3c" /><circle cx="691.43" cy="198.60" r="0.9" fill="#8a8a8a"/><rect x="694.2299999999999" y="198.29999999999998" width="1.2" height="0.6" fill="#6a3030" opacity="0.8"/><rect x="695.06" y="197.29999999999998" width="4.2" height="2.9" fill="#1c1c1c" /><rect x="697.06" y="197.7" width="1.8" height="1.5" fill="#3c3c3c" /><circle cx="696.46" cy="198.60" r="0.9" fill="#8a8a8a"/><rect x="699.2599999999999" y="198.29999999999998" width="1.2" height="0.6" fill="#6a3030" opacity="0.8"/><rect x="700.09" y="197.29999999999998" width="4.2" height="2.9" fill="#1c1c1c" /><rect x="702.09" y="197.7" width="1.8" height="1.5" fill="#3c3c3c" /><circle cx="701.49" cy="198.60" r="0.9" fill="#8a8a8a"/><rect x="704.29" y="198.29999999999998" width="1.2" height="0.6" fill="#6a3030" opacity="0.8"/><rect x="705.12" y="197.29999999999998" width="4.2" height="2.9" fill="#1c1c1c" /><rect x="707.12" y="197.7" width="1.8" height="1.5" fill="#3c3c3c" /><circle cx="706.52" cy="198.60" r="0.9" fill="#8a8a8a"/><rect x="709.3199999999999" y="198.29999999999998" width="1.2" height="0.6" fill="#6a3030" opacity="0.8"/><rect x="710.15" y="197.29999999999998" width="4.2" height="2.9" fill="#1c1c1c" /><rect x="712.15" y="197.7" width="1.8" height="1.5" fill="#3c3c3c" /><circle cx="711.55" cy="198.60" r="0.9" fill="#8a8a8a"/><rect x="714.3499999999999" y="198.29999999999998" width="1.2" height="0.6" fill="#6a3030" opacity="0.8"/><rect x="715.18" y="197.29999999999998" width="4.2" height="2.9" fill="#1c1c1c" /><rect x="717.18" y="197.7" width="1.8" height="1.5" fill="#3c3c3c" /><circle cx="716.58" cy="198.60" r="0.9" fill="#8a8a8a"/><rect x="719.3799999999999" y="198.29999999999998" width="1.2" height="0.6" fill="#6a3030" opacity="0.8"/><rect x="720.21" y="197.29999999999998" width="4.2" height="2.9" fill="#1c1c1c" /><rect x="722.21" y="197.7" width="1.8" height="1.5" fill="#3c3c3c" /><circle cx="721.61" cy="198.60" r="0.9" fill="#8a8a8a"/><rect x="724.41" y="198.29999999999998" width="1.2" height="0.6" fill="#6a3030" opacity="0.8"/><rect x="727.0" y="197.4" width="3.2" height="2.6" fill="#1e1e1e" /><circle cx="728.30" cy="198.40" r="0.6" fill="#6a6a6a"/><rect x="731.9" y="197.4" width="3.2" height="2.6" fill="#1e1e1e" /><circle cx="733.20" cy="198.40" r="0.6" fill="#6a6a6a"/><rect x="736.8" y="197.4" width="3.2" height="2.6" fill="#1e1e1e" /><circle cx="738.10" cy="198.40" r="0.6" fill="#6a6a6a"/><rect x="685.0" y="201.32" width="4.2" height="2.9" fill="#1c1c1c" /><rect x="687.0" y="201.72" width="1.8" height="1.5" fill="#3c3c3c" /><circle cx="686.40" cy="202.62" r="0.9" fill="#8a8a8a"/><rect x="689.1999999999999" y="202.32" width="1.2" height="0.6" fill="#6a3030" opacity="0.8"/><rect x="690.03" y="201.32" width="4.2" height="2.9" fill="#1c1c1c" /><rect x="692.03" y="201.72" width="1.8" height="1.5" fill="#3c3c3c" /><circle cx="691.43" cy="202.62" r="0.9" fill="#8a8a8a"/><rect x="694.2299999999999" y="202.32" width="1.2" height="0.6" fill="#6a3030" opacity="0.8"/><rect x="695.06" y="201.32" width="4.2" height="2.9" fill="#1c1c1c" /><rect x="697.06" y="201.72" width="1.8" height="1.5" fill="#3c3c3c" /><circle cx="696.46" cy="202.62" r="0.9" fill="#8a8a8a"/><rect x="699.2599999999999" y="202.32" width="1.2" height="0.6" fill="#6a3030" opacity="0.8"/><rect x="700.09" y="201.32" width="4.2" height="2.9" fill="#1c1c1c" /><rect x="702.09" y="201.72" width="1.8" height="1.5" fill="#3c3c3c" /><circle cx="701.49" cy="202.62" r="0.9" fill="#8a8a8a"/><rect x="704.29" y="202.32" width="1.2" height="0.6" fill="#6a3030" opacity="0.8"/><rect x="705.12" y="201.32" width="4.2" height="2.9" fill="#1c1c1c" /><rect x="707.12" y="201.72" width="1.8" height="1.5" fill="#3c3c3c" /><circle cx="706.52" cy="202.62" r="0.9" fill="#8a8a8a"/><rect x="709.3199999999999" y="202.32" width="1.2" height="0.6" fill="#6a3030" opacity="0.8"/><rect x="710.15" y="201.32" width="4.2" height="2.9" fill="#1c1c1c" /><rect x="712.15" y="201.72" width="1.8" height="1.5" fill="#3c3c3c" /><circle cx="711.55" cy="202.62" r="0.9" fill="#8a8a8a"/><rect x="714.3499999999999" y="202.32" width="1.2" height="0.6" fill="#6a3030" opacity="0.8"/><rect x="715.18" y="201.32" width="4.2" height="2.9" fill="#1c1c1c" /><rect x="717.18" y="201.72" width="1.8" height="1.5" fill="#3c3c3c" /><circle cx="716.58" cy="202.62" r="0.9" fill="#8a8a8a"/><rect x="719.3799999999999" y="202.32" width="1.2" height="0.6" fill="#6a3030" opacity="0.8"/><rect x="720.21" y="201.32" width="4.2" height="2.9" fill="#1c1c1c" /><rect x="722.21" y="201.72" width="1.8" height="1.5" fill="#3c3c3c" /><circle cx="721.61" cy="202.62" r="0.9" fill="#8a8a8a"/><rect x="724.41" y="202.32" width="1.2" height="0.6" fill="#6a3030" opacity="0.8"/><rect x="727.0" y="201.42000000000002" width="3.2" height="2.6" fill="#1e1e1e" /><circle cx="728.30" cy="202.42" r="0.6" fill="#6a6a6a"/><rect x="731.9" y="201.42000000000002" width="3.2" height="2.6" fill="#1e1e1e" /><circle cx="733.20" cy="202.42" r="0.6" fill="#6a6a6a"/><rect x="736.8" y="201.42000000000002" width="3.2" height="2.6" fill="#1e1e1e" /><circle cx="738.10" cy="202.42" r="0.6" fill="#6a6a6a"/><rect x="685.0" y="205.33999999999997" width="4.2" height="2.9" fill="#1c1c1c" /><rect x="687.0" y="205.73999999999998" width="1.8" height="1.5" fill="#3c3c3c" /><circle cx="686.40" cy="206.64" r="0.9" fill="#8a8a8a"/><rect x="689.1999999999999" y="206.33999999999997" width="1.2" height="0.6" fill="#6a3030" opacity="0.8"/><rect x="690.03" y="205.33999999999997" width="4.2" height="2.9" fill="#1c1c1c" /><rect x="692.03" y="205.73999999999998" width="1.8" height="1.5" fill="#3c3c3c" /><circle cx="691.43" cy="206.64" r="0.9" fill="#8a8a8a"/><rect x="694.2299999999999" y="206.33999999999997" width="1.2" height="0.6" fill="#6a3030" opacity="0.8"/><rect x="695.06" y="205.33999999999997" width="4.2" height="2.9" fill="#1c1c1c" /><rect x="697.06" y="205.73999999999998" width="1.8" height="1.5" fill="#3c3c3c" /><circle cx="696.46" cy="206.64" r="0.9" fill="#8a8a8a"/><rect x="699.2599999999999" y="206.33999999999997" width="1.2" height="0.6" fill="#6a3030" opacity="0.8"/><rect x="700.09" y="205.33999999999997" width="4.2" height="2.9" fill="#1c1c1c" /><rect x="702.09" y="205.73999999999998" width="1.8" height="1.5" fill="#3c3c3c" /><circle cx="701.49" cy="206.64" r="0.9" fill="#8a8a8a"/><rect x="704.29" y="206.33999999999997" width="1.2" height="0.6" fill="#6a3030" opacity="0.8"/><rect x="705.12" y="205.33999999999997" width="4.2" height="2.9" fill="#1c1c1c" /><rect x="707.12" y="205.73999999999998" width="1.8" height="1.5" fill="#3c3c3c" /><circle cx="706.52" cy="206.64" r="0.9" fill="#8a8a8a"/><rect x="709.3199999999999" y="206.33999999999997" width="1.2" height="0.6" fill="#6a3030" opacity="0.8"/><rect x="710.15" y="205.33999999999997" width="4.2" height="2.9" fill="#1c1c1c" /><rect x="712.15" y="205.73999999999998" width="1.8" height="1.5" fill="#3c3c3c" /><circle cx="711.55" cy="206.64" r="0.9" fill="#8a8a8a"/><rect x="714.3499999999999" y="206.33999999999997" width="1.2" height="0.6" fill="#6a3030" opacity="0.8"/><rect x="715.18" y="205.33999999999997" width="4.2" height="2.9" fill="#1c1c1c" /><rect x="717.18" y="205.73999999999998" width="1.8" height="1.5" fill="#3c3c3c" /><circle cx="716.58" cy="206.64" r="0.9" fill="#8a8a8a"/><rect x="719.3799999999999" y="206.33999999999997" width="1.2" height="0.6" fill="#6a3030" opacity="0.8"/><rect x="720.21" y="205.33999999999997" width="4.2" height="2.9" fill="#1c1c1c" /><rect x="722.21" y="205.73999999999998" width="1.8" height="1.5" fill="#3c3c3c" /><circle cx="721.61" cy="206.64" r="0.9" fill="#8a8a8a"/><rect x="724.41" y="206.33999999999997" width="1.2" height="0.6" fill="#6a3030" opacity="0.8"/><rect x="727.0" y="205.44" width="3.2" height="2.6" fill="#1e1e1e" /><circle cx="728.30" cy="206.44" r="0.6" fill="#6a6a6a"/><rect x="731.9" y="205.44" width="3.2" height="2.6" fill="#1e1e1e" /><circle cx="733.20" cy="206.44" r="0.6" fill="#6a6a6a"/><rect x="736.8" y="205.44" width="3.2" height="2.6" fill="#1e1e1e" /><circle cx="738.10" cy="206.44" r="0.6" fill="#6a6a6a"/><rect x="684.8" y="211.2" width="22.6" height="7.0" fill="#1c1c1c" /><rect x="684.8" y="211.2" width="22.6" height="0.5" fill="#3a3a3a" /><rect x="695" y="214.2" width="2.5" height="0.8" fill="#5a5a5a" /><rect x="705.5" y="212.2" width="0.8" height="1.5" fill="#6a6a6a" /><rect x="705.5" y="215.7" width="0.8" height="1.5" fill="#6a6a6a" /><rect x="684.8" y="218.6" width="22.6" height="7.0" fill="#1c1c1c" /><rect x="684.8" y="218.6" width="22.6" height="0.5" fill="#3a3a3a" /><rect x="695" y="221.6" width="2.5" height="0.8" fill="#5a5a5a" /><rect x="705.5" y="219.6" width="0.8" height="1.5" fill="#6a6a6a" /><rect x="705.5" y="223.1" width="0.8" height="1.5" fill="#6a6a6a" /><rect x="684.8" y="226.0" width="22.6" height="7.0" fill="#1c1c1c" /><rect x="684.8" y="226.0" width="22.6" height="0.5" fill="#3a3a3a" /><rect x="695" y="229.0" width="2.5" height="0.8" fill="#5a5a5a" /><rect x="705.5" y="227.0" width="0.8" height="1.5" fill="#6a6a6a" /><rect x="705.5" y="230.5" width="0.8" height="1.5" fill="#6a6a6a" /><rect x="709.6" y="211.9" width="3.8" height="1.5" fill="#c83030" /><rect x="718" y="211.9" width="4.3" height="1.5" fill="#c83030" /><rect x="709.6" y="213.5" width="12.9" height="1.5" fill="#a0a0a0" /><rect x="715" y="213.6" width="2" height="1.6" fill="#c02828" /><rect x="712.7" y="215.6" width="9.6" height="6.3" rx="1" fill="#c8c8c8"/><circle cx="715.8" cy="218.8" r="1.4" fill="#111"/><circle cx="720.1" cy="218.8" r="1.4" fill="#111"/><rect x="709.6" y="215.6" width="3" height="6.3" fill="#2a2a2a" /><rect x="724" y="212" width="20" height="10.5" fill="#141414" /><circle cx="731" cy="214.5" r="0.8" fill="#b8a070"/><circle cx="734.5" cy="214.5" r="0.8" fill="#b8a070"/><circle cx="726.5" cy="214.5" r="0.6" fill="#8a8a8a"/><circle cx="725.5" cy="218.2" r="1.1" fill="#5a5a5a"/><circle cx="725.5" cy="220.6" r="0.7" fill="#3a3a3a"/><circle cx="729.5" cy="218.2" r="1.1" fill="#5a5a5a"/><circle cx="729.5" cy="220.6" r="0.7" fill="#3a3a3a"/><circle cx="733.5" cy="218.2" r="1.1" fill="#5a5a5a"/><circle cx="733.5" cy="220.6" r="0.7" fill="#3a3a3a"/><circle cx="737.5" cy="218.2" r="1.1" fill="#5a5a5a"/><circle cx="737.5" cy="220.6" r="0.7" fill="#3a3a3a"/><circle cx="741.5" cy="218.2" r="1.1" fill="#5a5a5a"/><circle cx="741.5" cy="220.6" r="0.7" fill="#3a3a3a"/><rect x="707.5" y="223" width="17" height="10.6" fill="#161616" /><rect x="708.5" y="224.5" width="6" height="7.5" fill="#3a3a3a" /><rect x="708.5" y="225.3" width="6" height="0.6" fill="#606060" /><rect x="708.5" y="227.10000000000002" width="6" height="0.6" fill="#606060" /><rect x="708.5" y="228.9" width="6" height="0.6" fill="#606060" /><rect x="708.5" y="230.70000000000002" width="6" height="0.6" fill="#606060" /><rect x="708.5" y="224.2" width="6.5" height="1.0" fill="#7a7a7a" opacity="0.8"/><ellipse cx="719.5" cy="231.2" rx="3.2" ry="1.6" fill="#8a8a8a"/><rect x="716.5" y="224.5" width="2" height="1.5" fill="#5a5a5a" /><rect x="725.2" y="223" width="17" height="10.6" fill="#161616" /><rect x="726.2" y="224.5" width="6" height="7.5" fill="#3a3a3a" /><rect x="726.2" y="225.3" width="6" height="0.6" fill="#606060" /><rect x="726.2" y="227.10000000000002" width="6" height="0.6" fill="#606060" /><rect x="726.2" y="228.9" width="6" height="0.6" fill="#606060" /><rect x="726.2" y="230.70000000000002" width="6" height="0.6" fill="#606060" /><rect x="726.2" y="224.2" width="6.5" height="1.0" fill="#7a7a7a" opacity="0.8"/><ellipse cx="737.2" cy="231.2" rx="3.2" ry="1.6" fill="#8a8a8a"/><rect x="734.2" y="224.5" width="2" height="1.5" fill="#5a5a5a" /><rect x="683" y="233.3" width="61.5" height="0.6" fill="#2a2a2a" /></svg></body></html>
